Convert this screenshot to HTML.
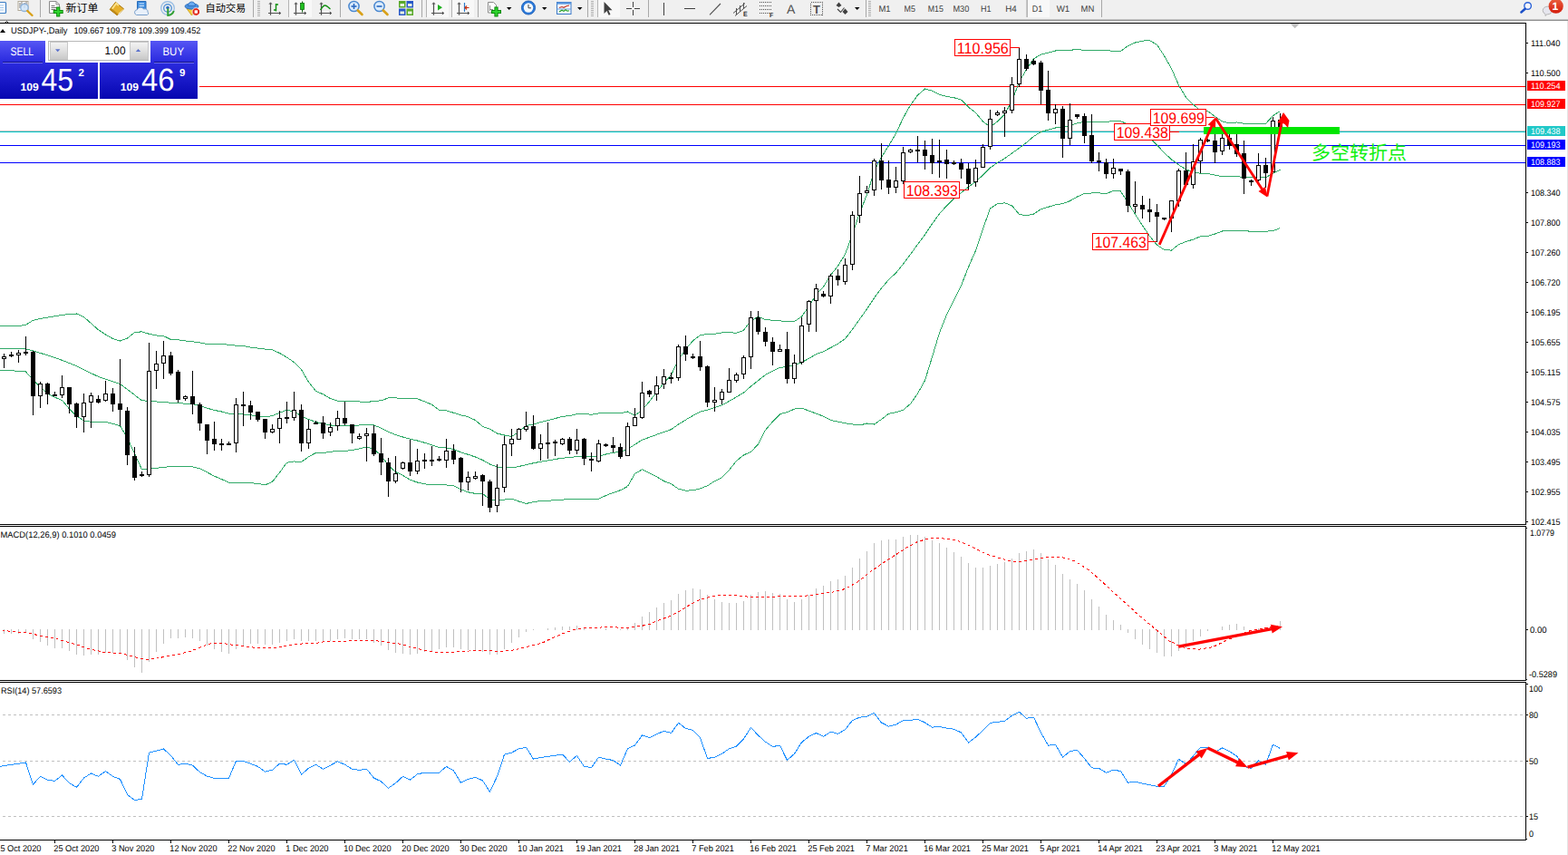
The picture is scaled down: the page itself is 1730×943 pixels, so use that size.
<!DOCTYPE html>
<html><head><meta charset="utf-8"><title>USDJPY-,Daily</title>
<style>html,body{margin:0;padding:0;background:#fff;overflow:hidden}svg{display:block}text{font-family:"Liberation Sans",sans-serif;text-rendering:geometricPrecision}</style>
</head><body>
<svg width="1730" height="943" viewBox="0 0 1730 943">
<rect x="0" y="0" width="1730" height="943" fill="#fff"/>
<rect x="0" y="0" width="1730" height="21" fill="#f0f0f0"/>
<g shape-rendering="crispEdges"><rect x="0" y="21" width="1730" height="1" fill="#c6c6c6"/><rect x="0" y="22" width="1730" height="1" fill="#8e8e8e"/><rect x="0" y="23" width="1730" height="2" fill="#fff"/></g>
<rect x="-3" y="2.5" width="9.5" height="12" rx="1" fill="#fff" stroke="#3a7cc4" stroke-width="1.2"/><path d="M-1,6H4M-1,8.5H4M-1,11H4" stroke="#9ec4ea" stroke-width="1"/>
<rect x="20" y="1.5" width="11" height="10" fill="#fcfcfc" stroke="#b0a898" stroke-width="1"/><path d="M22,3v6M24,2v5M27,3v6M29,2v4" stroke="#7a7a7a" stroke-width="1"/><circle cx="27" cy="8.5" r="4.2" fill="#cfe4f8" fill-opacity="0.85" stroke="#8fb4dc" stroke-width="1.3"/><path d="M30.2,12L35.5,17" stroke="#d8a018" stroke-width="2.4" stroke-linecap="round"/>
<rect x="44" y="0" width="1" height="19" fill="#a8a8a8" shape-rendering="crispEdges"/>
<path d="M54.5,1.5h7.5l3.500,3.500v9.500h-11z" fill="#fff" stroke="#8a8a8a" stroke-width="1"/><path d="M62,1.500v3.500h3.500" fill="none" stroke="#8a8a8a"/><path d="M56.5,6.5h4M56.5,8.5h6M56.5,10.5h5" stroke="#707070" stroke-width="1"/><path d="M64.2,7.5v11M58.7,13h11" stroke="#0c8a0c" stroke-width="4.2"/><path d="M64.2,8.5v9M59.7,13h9" stroke="#2fd42f" stroke-width="2.2"/>
<text x="72.6" y="12.5" font-size="12" fill="#000" textLength="35.8" lengthAdjust="spacingAndGlyphs" style="font-family:'Liberation Sans','Noto Sans CJK SC',sans-serif">新订单</text>
<path d="M121.200,10.500L127.500,2.400L136.800,10L129.200,16.800Z" fill="#e6b02c" stroke="#a87408" stroke-width="1"/><path d="M121.200,10.500L129.200,16.800L130.500,15.400L123,9.300Z" fill="#c08a18"/><path d="M123.800,9.600L128.300,3.800L131,6" stroke="#fbe28c" stroke-width="1.800" fill="none"/><path d="M130.500,15.400L136.800,10" stroke="#fff0c0" stroke-width="1"/>
<path d="M151.5,1.5h9.5v11h-9.5z" fill="#3f8ee0" stroke="#2a6cb8"/><path d="M153.5,4h5.5M153.5,6.5h5.5" stroke="#d8ecff" stroke-width="1.2"/><path d="M150.5,16.5a3,3 0 0 1 0.8,-5.8a4,4 0 0 1 7.2,-0.6a3.2,3.2 0 0 1 4.6,3.2a2,2 0 0 1 -0.6,3.2z" fill="#e8f0fa" stroke="#7aa0cc" stroke-width="1"/>
<circle cx="185" cy="9" r="7.3" fill="none" stroke="#9cc0e4" stroke-width="1.4"/><circle cx="185" cy="9" r="4.3" fill="none" stroke="#5a96d6" stroke-width="1.4"/><circle cx="185" cy="8.5" r="1.8" fill="#2a6cc0"/><path d="M185.3,9.5v7.5a7.5,7.5 0 0 0 6.5,-5" fill="none" stroke="#30a030" stroke-width="2"/>
<path d="M206,9.5l5.5,7.5l6,-7.5z" fill="#f4cc3c" stroke="#c89810" stroke-width="0.8"/><ellipse cx="211.5" cy="7" rx="7.5" ry="3.2" fill="#4a90e0" stroke="#2868b8" stroke-width="0.8"/><path d="M207.5,6.5a4,4.5 0 0 1 8,0z" fill="#6aaaf0" stroke="#2868b8" stroke-width="0.8"/><circle cx="216.3" cy="13" r="4.3" fill="#e02818" stroke="#fff" stroke-width="0.8"/><rect x="214.6" y="11.3" width="3.4" height="3.4" fill="#fff"/>
<text x="226.5" y="12.5" font-size="11.5" fill="#000" textLength="44.8" lengthAdjust="spacingAndGlyphs" style="font-family:'Liberation Sans','Noto Sans CJK SC',sans-serif">自动交易</text>
<rect x="279" y="0" width="1" height="19" fill="#a8a8a8" shape-rendering="crispEdges"/>
<g shape-rendering="crispEdges"><rect x="284" y="1" width="3" height="1" fill="#b0b0b0"/><rect x="284" y="3" width="3" height="1" fill="#b0b0b0"/><rect x="284" y="5" width="3" height="1" fill="#b0b0b0"/><rect x="284" y="7" width="3" height="1" fill="#b0b0b0"/><rect x="284" y="9" width="3" height="1" fill="#b0b0b0"/><rect x="284" y="11" width="3" height="1" fill="#b0b0b0"/><rect x="284" y="13" width="3" height="1" fill="#b0b0b0"/><rect x="284" y="15" width="3" height="1" fill="#b0b0b0"/><rect x="284" y="17" width="3" height="1" fill="#b0b0b0"/></g>
<path d="M298.5,3.2v13.5M296,14.5h13.5" stroke="#505050" stroke-width="1.2" fill="none"/><path d="M297,4.8l1.5,-2l1.5,2M307.8,13l2,1.5l-2,1.5" stroke="#505050" stroke-width="1" fill="none"/>
<path d="M304.5,4v8.5M304.5,5h2.5M302,11h2.5" stroke="#109010" stroke-width="1.4" fill="none"/>
<rect x="318" y="0" width="26" height="19" fill="#f8f8f8" shape-rendering="crispEdges"/><rect x="318" y="0" width="1" height="19" fill="#b4b4b4" shape-rendering="crispEdges"/>
<path d="M326.5,3.2v13.5M324,14.5h13.5" stroke="#505050" stroke-width="1.2" fill="none"/><path d="M325,4.8l1.5,-2l1.5,2M335.8,13l2,1.5l-2,1.5" stroke="#505050" stroke-width="1" fill="none"/>
<path d="M333.5,1.5v12" stroke="#106010" stroke-width="1"/><rect x="331.5" y="3.5" width="4" height="7" fill="#20c020" stroke="#107010" stroke-width="0.8"/>
<path d="M354.5,3.2v13.5M352,14.5h13.5" stroke="#505050" stroke-width="1.2" fill="none"/><path d="M353,4.8l1.5,-2l1.5,2M363.8,13l2,1.5l-2,1.5" stroke="#505050" stroke-width="1" fill="none"/>
<path d="M353.5,11c1.5,-2.500 3.500,-5 5.200,-5c2,0 3.500,2.500 5.800,4" stroke="#109010" stroke-width="1.300" fill="none"/>
<rect x="375" y="0" width="1" height="19" fill="#a8a8a8" shape-rendering="crispEdges"/>
<circle cx="390.5" cy="7" r="5.6" fill="#dcecfc" stroke="#4a88d0" stroke-width="1.5"/><path d="M394.8,11.5L399.5,16" stroke="#d8a018" stroke-width="2.6" stroke-linecap="round"/><path d="M387.5,7h6" stroke="#2868c0" stroke-width="1.6"/><path d="M390.5,4v6" stroke="#2868c0" stroke-width="1.6"/>
<circle cx="418.5" cy="7" r="5.6" fill="#dcecfc" stroke="#4a88d0" stroke-width="1.5"/><path d="M422.8,11.5L427.5,16" stroke="#d8a018" stroke-width="2.6" stroke-linecap="round"/><path d="M415.5,7h6" stroke="#2868c0" stroke-width="1.6"/>
<rect x="440" y="1" width="7.5" height="7.5" fill="#58a828"/><rect x="448.5" y="1" width="7.5" height="7.5" fill="#2858c8"/><rect x="440" y="9.5" width="7.5" height="7.5" fill="#2858c8"/><rect x="448.5" y="9.5" width="7.5" height="7.5" fill="#58a828"/><g fill="#e8f4e0"><rect x="441.5" y="4" width="4.5" height="3"/><rect x="450" y="4" width="4.5" height="3"/><rect x="441.5" y="12.500" width="4.5" height="3"/><rect x="450" y="12.5" width="4.5" height="3"/></g>
<rect x="465" y="0" width="1" height="19" fill="#a8a8a8" shape-rendering="crispEdges"/>
<rect x="470" y="0" width="25" height="19" fill="#f8f8f8" shape-rendering="crispEdges"/><rect x="470" y="0" width="1" height="19" fill="#b4b4b4" shape-rendering="crispEdges"/>
<path d="M478.5,3.2v13.5M476,14.5h13.5" stroke="#505050" stroke-width="1.2" fill="none"/><path d="M477,4.8l1.5,-2l1.5,2M487.8,13l2,1.5l-2,1.5" stroke="#505050" stroke-width="1" fill="none"/>
<polygon points="483,5 483,11.5 488,8.2" fill="#20b020"/>
<rect x="498" y="0" width="25" height="19" fill="#f8f8f8" shape-rendering="crispEdges"/><rect x="498" y="0" width="1" height="19" fill="#b4b4b4" shape-rendering="crispEdges"/>
<path d="M506.5,3.2v13.5M504,14.5h13.5" stroke="#505050" stroke-width="1.2" fill="none"/><path d="M505,4.8l1.5,-2l1.5,2M515.8,13l2,1.5l-2,1.5" stroke="#505050" stroke-width="1" fill="none"/>
<path d="M512.5,3v10" stroke="#2878c8" stroke-width="1.2"/><path d="M517.5,8.5h-4.5M515,6.5l-2,2l2,2" stroke="#c83010" stroke-width="1.1" fill="none"/>
<rect x="527" y="0" width="1" height="19" fill="#a8a8a8" shape-rendering="crispEdges"/>
<path d="M538.500,2.5h6l3,3v8.5h-9z" fill="#fff" stroke="#8a8a8a"/><path d="M540.5,6v6M540,10.500h4" stroke="#808080" stroke-width="0.9"/><path d="M547.5,7.500v11M542,13h11" stroke="#0c8a0c" stroke-width="4.200"/><path d="M547.5,8.500v9M543,13h9" stroke="#2fd42f" stroke-width="2.200"/>
<polygon points="559,8 564.5,8 561.75,11" fill="#000"/>
<circle cx="583" cy="8.5" r="7.6" fill="#2a78d8" stroke="#1858b0" stroke-width="0.8"/><circle cx="583" cy="8.500" r="5.2" fill="#f4f8fc"/><path d="M583,5v3.8h3" stroke="#404040" stroke-width="1" fill="none"/>
<polygon points="598,8 603.5,8 600.75,11" fill="#000"/>
<rect x="614.5" y="2.500" width="15.500" height="13" fill="#f8fafc" stroke="#3a78c8"/><rect x="614.500" y="2.500" width="15.500" height="2.200" fill="#5a98e0"/><path d="M614.500,10h15.500" stroke="#6aa0e0" stroke-width="1"/><path d="M617,8.500l3,-1l2,0.800l3,-1.600l3,-0.700" stroke="#c03020" stroke-width="1.100" fill="none"/><path d="M617,13l3,-1.800l2,1.200l2,-1.600l2,1.400l2,-0.500" stroke="#20a020" stroke-width="1.100" fill="none"/>
<polygon points="637,8 642.5,8 639.75,11" fill="#000"/>
<rect x="648" y="0" width="1" height="19" fill="#a8a8a8" shape-rendering="crispEdges"/>
<g shape-rendering="crispEdges"><rect x="652" y="1" width="3" height="1" fill="#b0b0b0"/><rect x="652" y="3" width="3" height="1" fill="#b0b0b0"/><rect x="652" y="5" width="3" height="1" fill="#b0b0b0"/><rect x="652" y="7" width="3" height="1" fill="#b0b0b0"/><rect x="652" y="9" width="3" height="1" fill="#b0b0b0"/><rect x="652" y="11" width="3" height="1" fill="#b0b0b0"/><rect x="652" y="13" width="3" height="1" fill="#b0b0b0"/><rect x="652" y="15" width="3" height="1" fill="#b0b0b0"/><rect x="652" y="17" width="3" height="1" fill="#b0b0b0"/></g>
<rect x="659" y="0" width="25" height="19" fill="#f8f8f8" shape-rendering="crispEdges"/><rect x="659" y="0" width="1" height="19" fill="#b4b4b4" shape-rendering="crispEdges"/>
<path d="M666.500,2v13l3,-3l2.200,4.800l1.800,-0.800l-2.200,-4.700h4.200z" fill="#404040"/>
<path d="M698.500,2v6M698.5,11v6M691,9.500h6M700,9.500h6" stroke="#404040" stroke-width="1" shape-rendering="crispEdges"/>
<rect x="715" y="0" width="1" height="19" fill="#a8a8a8" shape-rendering="crispEdges"/>
<path d="M732.500,3v13.500" stroke="#404040" stroke-width="1" shape-rendering="crispEdges"/><path d="M755,9.500h12" stroke="#404040" stroke-width="1" shape-rendering="crispEdges"/><path d="M783,16.300L795,4" stroke="#505050" stroke-width="1.100"/>
<path d="M809,14.500L822,3.500M811,17.500L824,6.500M812.500,9v7M816.500,6v7M820.500,3v7" stroke="#505050" stroke-width="1" fill="none"/>
<g shape-rendering="crispEdges"><path d="M838,2.5h14" stroke="#505050" stroke-width="1" stroke-dasharray="1,1"/><path d="M838,6.5h14" stroke="#505050" stroke-width="1" stroke-dasharray="1,1"/><path d="M838,10.5h14" stroke="#505050" stroke-width="1" stroke-dasharray="1,1"/><path d="M838,14.5h14" stroke="#505050" stroke-width="1" stroke-dasharray="1,1"/></g>
<text x="849" y="19" font-size="7" fill="#303030" font-weight="bold">F</text>
<text x="868" y="15" font-size="14" fill="#505050">A</text>
<rect x="894.500" y="2.500" width="13" height="14" fill="none" stroke="#505050" stroke-width="1" stroke-dasharray="1,1" shape-rendering="crispEdges"/>
<text x="897" y="15" font-size="13" fill="#505050" font-weight="bold">T</text>
<polygon points="922.500,6 925.500,2.500 928.500,6 925.500,8" fill="#404040"/><polygon points="929.500,13 932.500,9.500 935.500,13 932.500,16" fill="#404040"/><path d="M924,10l3.500,3.500l4,-5" stroke="#404040" stroke-width="1.100" fill="none"/>
<polygon points="943,8 948.5,8 945.75,11" fill="#000"/>
<rect x="955" y="0" width="1" height="19" fill="#a8a8a8" shape-rendering="crispEdges"/>
<g shape-rendering="crispEdges"><rect x="958" y="1" width="3" height="1" fill="#b0b0b0"/><rect x="958" y="3" width="3" height="1" fill="#b0b0b0"/><rect x="958" y="5" width="3" height="1" fill="#b0b0b0"/><rect x="958" y="7" width="3" height="1" fill="#b0b0b0"/><rect x="958" y="9" width="3" height="1" fill="#b0b0b0"/><rect x="958" y="11" width="3" height="1" fill="#b0b0b0"/><rect x="958" y="13" width="3" height="1" fill="#b0b0b0"/><rect x="958" y="15" width="3" height="1" fill="#b0b0b0"/><rect x="958" y="17" width="3" height="1" fill="#b0b0b0"/></g>
<rect x="1133" y="0" width="25" height="19" fill="#f8f8f8" shape-rendering="crispEdges"/><rect x="1133" y="0" width="1" height="19" fill="#b4b4b4" shape-rendering="crispEdges"/>
<rect x="1132" y="0" width="1" height="19" fill="#c8c8c8"/>
<text x="969.4" y="13.2" font-size="9.7" fill="#404040" textLength="13.2" lengthAdjust="spacingAndGlyphs">M1</text>
<text x="997.6" y="13.2" font-size="9.7" fill="#404040" textLength="12.3" lengthAdjust="spacingAndGlyphs">M5</text>
<text x="1023.8" y="13.2" font-size="9.7" fill="#404040" textLength="17.1" lengthAdjust="spacingAndGlyphs">M15</text>
<text x="1051.5" y="13.2" font-size="9.7" fill="#404040" textLength="17.8" lengthAdjust="spacingAndGlyphs">M30</text>
<text x="1082" y="13.2" font-size="9.7" fill="#404040" textLength="11.6" lengthAdjust="spacingAndGlyphs">H1</text>
<text x="1109.3" y="13.2" font-size="9.7" fill="#404040" textLength="12.5" lengthAdjust="spacingAndGlyphs">H4</text>
<text x="1138.7" y="13.2" font-size="9.7" fill="#404040" textLength="11.5" lengthAdjust="spacingAndGlyphs">D1</text>
<text x="1165.7" y="13.2" font-size="9.7" fill="#404040" textLength="14.6" lengthAdjust="spacingAndGlyphs">W1</text>
<text x="1192.5" y="13.2" font-size="9.7" fill="#404040" textLength="14.8" lengthAdjust="spacingAndGlyphs">MN</text>
<rect x="1215" y="0" width="1" height="19" fill="#a8a8a8" shape-rendering="crispEdges"/>
<circle cx="1685.600" cy="6.500" r="3.800" fill="#f4f4fa" stroke="#2a62d8" stroke-width="1.400"/><path d="M1682.700,9.700L1678.400,13.500" stroke="#1c50c8" stroke-width="2.500" stroke-linecap="round"/>
<defs><linearGradient id="gr" x1="0" y1="0" x2="0" y2="1"><stop offset="0" stop-color="#ea6040"/><stop offset="1" stop-color="#d41c0c"/></linearGradient></defs><path d="M1702.200,11.500a5.200,4.300 0 0 1 10.400,0a5.200,4.300 0 0 1 -5.200,4.300h-1l-1.200,1.800l-0.300,-2.200a5.200,4.300 0 0 1 -2.700,-3.900z" fill="#e6e6ee" stroke="#b4b4b4" stroke-width="1"/><circle cx="1716.700" cy="6.700" r="8.100" fill="url(#gr)"/>
<text x="1715.800" y="10.900" font-size="12" fill="#fff" text-anchor="middle" font-weight="bold">1</text><rect x="1713.200" y="9.700" width="5.200" height="1.200" fill="#fff"/>
<rect x="1729" y="23" width="1" height="920" fill="#e4e4e4"/>
<g shape-rendering="crispEdges">
<rect x="0" y="25" width="1684" height="1" fill="#000"/>
<rect x="1683" y="25" width="1" height="902" fill="#000"/>
<rect x="0" y="578" width="1684" height="1" fill="#000"/>
<rect x="0" y="580" width="1684" height="1" fill="#000"/>
<rect x="0" y="750" width="1684" height="1" fill="#000"/>
<rect x="0" y="752" width="1684" height="1" fill="#000"/>
<rect x="0" y="926" width="1684" height="1" fill="#000"/>
</g>
<g shape-rendering="crispEdges">
<rect x="0" y="95" width="1683" height="1" fill="#ff0000"/>
<rect x="0" y="115" width="1683" height="1" fill="#ff0000"/>
<rect x="0" y="144" width="1683" height="1" fill="#c8c0c0"/>
<rect x="0" y="145" width="1683" height="1" fill="#00c8c8"/>
<rect x="0" y="160" width="1683" height="1" fill="#0000ff"/>
<rect x="0" y="179" width="1683" height="1" fill="#0000ff"/>
</g>
<polyline points="-3.5,359.1 4.5,359.2 12.5,359.4 20.5,359.7 28.5,358.3 36.5,353.3 44.5,351.5 52.5,350.1 60.5,348.7 68.5,347.5 76.5,346.4 84.5,346.0 92.5,349.5 100.5,356.7 108.5,363.7 116.5,369.0 124.5,373.6 132.5,376.0 140.5,373.0 148.5,366.6 156.5,365.8 164.5,368.3 172.5,370.0 180.5,370.6 188.5,374.5 196.5,374.8 204.5,376.0 212.5,376.8 220.5,377.9 228.5,379.5 236.5,379.7 244.5,379.5 252.5,380.3 260.5,381.2 268.5,381.4 276.5,383.1 284.5,384.1 292.5,385.1 300.5,385.8 308.5,389.5 316.5,394.1 324.5,399.6 332.5,407.7 340.5,421.3 348.5,431.4 356.5,434.9 364.5,439.6 372.5,442.1 380.5,442.1 388.5,442.4 396.5,443.0 404.5,443.8 412.5,442.2 420.5,441.9 428.5,438.9 436.5,438.8 444.5,439.8 452.5,439.1 460.5,439.9 468.5,442.8 476.5,446.3 484.5,452.3 492.5,452.8 500.5,455.3 508.5,457.8 516.5,459.7 524.5,463.5 532.5,470.3 540.5,473.3 548.5,478.0 556.5,480.0 564.5,481.5 572.5,476.1 580.5,469.6 588.5,467.9 596.5,465.7 604.5,463.7 612.5,461.6 620.5,459.3 628.5,458.6 636.5,456.7 644.5,456.6 652.5,457.2 660.5,455.9 668.5,455.5 676.5,455.3 684.5,455.8 692.5,454.0 700.5,458.4 708.5,452.3 716.5,442.8 724.5,432.6 732.5,422.2 740.5,413.6 748.5,397.0 756.5,385.2 764.5,375.9 772.5,369.6 780.5,368.6 788.5,368.2 796.5,367.0 804.5,366.7 812.5,367.3 820.5,364.3 828.5,353.7 836.5,349.5 844.5,352.4 852.5,353.3 860.5,353.9 868.5,354.5 876.5,354.6 884.5,349.1 892.5,337.8 900.5,324.9 908.5,316.4 916.5,303.5 924.5,293.2 932.5,280.5 940.5,258.7 948.5,234.9 956.5,214.6 964.5,189.4 972.5,173.4 980.5,160.7 988.5,147.3 996.5,130.1 1004.5,115.8 1012.5,105.0 1020.5,98.0 1028.5,100.1 1036.5,104.4 1044.5,106.5 1052.5,107.7 1060.5,110.1 1068.5,118.1 1076.5,124.3 1084.5,134.0 1092.5,140.1 1100.5,134.0 1108.5,125.9 1116.5,111.2 1124.5,90.4 1132.5,76.7 1140.5,64.8 1148.5,60.1 1156.5,58.1 1164.5,56.0 1172.5,55.9 1180.5,55.2 1188.5,54.7 1196.5,55.3 1204.5,55.5 1212.5,55.6 1220.5,55.1 1228.5,56.8 1236.5,56.6 1244.5,50.5 1252.5,47.0 1260.5,45.1 1268.5,44.6 1276.5,49.3 1284.5,61.6 1292.5,75.6 1300.5,94.0 1308.5,107.4 1316.5,115.3 1324.5,122.0 1332.5,122.5 1340.5,128.5 1348.5,133.9 1356.5,135.9 1364.5,134.9 1372.5,136.2 1380.5,136.7 1388.5,136.4 1396.5,136.5 1404.5,127.6 1412.5,122.5" fill="none" stroke="#30aa68" stroke-width="1" shape-rendering="crispEdges"/>
<polyline points="-3.5,384.3 4.5,384.3 12.5,384.3 20.5,384.3 28.5,384.9 36.5,387.0 44.5,389.4 52.5,391.9 60.5,394.4 68.5,397.4 76.5,400.5 84.5,403.6 92.5,407.6 100.5,411.6 108.5,415.4 116.5,418.1 124.5,420.7 132.5,423.4 140.5,429.4 148.5,435.6 156.5,441.7 164.5,442.5 172.5,443.0 180.5,443.2 188.5,444.3 196.5,444.5 204.5,445.2 212.5,445.8 220.5,447.3 228.5,450.2 236.5,452.4 244.5,454.0 252.5,456.2 260.5,456.7 268.5,456.9 276.5,457.9 284.5,458.7 292.5,460.0 300.5,458.6 308.5,455.3 316.5,452.2 324.5,454.3 332.5,458.6 340.5,462.6 348.5,465.4 356.5,467.3 364.5,468.9 372.5,469.8 380.5,469.7 388.5,469.4 396.5,469.0 404.5,468.4 412.5,468.9 420.5,472.1 428.5,476.2 436.5,479.6 444.5,482.0 452.5,484.2 460.5,486.0 468.5,488.3 476.5,490.7 484.5,493.4 492.5,493.9 500.5,495.6 508.5,498.8 516.5,501.3 524.5,504.0 532.5,507.4 540.5,512.0 548.5,515.1 556.5,515.6 564.5,515.9 572.5,514.5 580.5,512.6 588.5,510.8 596.5,509.2 604.5,508.0 612.5,506.5 620.5,505.2 628.5,504.6 636.5,503.5 644.5,503.4 652.5,503.9 660.5,503.1 668.5,501.0 676.5,499.3 684.5,498.2 692.5,495.2 700.5,490.3 708.5,485.1 716.5,482.3 724.5,479.3 732.5,476.4 740.5,473.7 748.5,468.1 756.5,463.1 764.5,458.4 772.5,454.2 780.5,452.2 788.5,449.4 796.5,446.8 804.5,442.5 812.5,437.8 820.5,433.1 828.5,426.1 836.5,419.7 844.5,413.4 852.5,409.2 860.5,405.4 868.5,404.5 876.5,402.9 884.5,399.6 892.5,395.4 900.5,390.5 908.5,387.7 916.5,383.5 924.5,379.2 932.5,373.6 940.5,363.3 948.5,352.0 956.5,340.8 964.5,328.7 972.5,317.9 980.5,308.5 988.5,301.0 996.5,291.2 1004.5,280.6 1012.5,269.5 1020.5,258.8 1028.5,246.9 1036.5,235.8 1044.5,226.8 1052.5,219.2 1060.5,212.5 1068.5,206.3 1076.5,200.4 1084.5,193.1 1092.5,185.1 1100.5,179.4 1108.5,174.8 1116.5,169.0 1124.5,163.4 1132.5,157.2 1140.5,150.4 1148.5,145.4 1156.5,143.2 1164.5,141.0 1172.5,140.3 1180.5,138.4 1188.5,135.9 1196.5,134.4 1204.5,134.2 1212.5,134.2 1220.5,134.4 1228.5,133.6 1236.5,133.8 1244.5,137.0 1252.5,141.6 1260.5,146.9 1268.5,152.5 1276.5,159.8 1284.5,168.5 1292.5,175.9 1300.5,181.8 1308.5,187.0 1316.5,189.7 1324.5,191.4 1332.5,191.5 1340.5,193.2 1348.5,194.5 1356.5,195.0 1364.5,194.6 1372.5,195.5 1380.5,195.9 1388.5,195.7 1396.5,195.8 1404.5,191.1 1412.5,187.1" fill="none" stroke="#30aa68" stroke-width="1" shape-rendering="crispEdges"/>
<polyline points="-3.5,408.4 4.5,408.6 12.5,408.8 20.5,409.3 28.5,410.0 36.5,419.0 44.5,426.8 52.5,434.1 60.5,438.2 68.5,441.5 76.5,450.9 84.5,459.0 92.5,463.9 100.5,465.2 108.5,465.4 116.5,465.4 124.5,467.4 132.5,469.7 140.5,483.2 148.5,500.4 156.5,517.7 164.5,516.8 172.5,516.1 180.5,515.8 188.5,514.1 196.5,514.3 204.5,514.4 212.5,514.8 220.5,516.8 228.5,520.9 236.5,525.2 244.5,528.5 252.5,532.2 260.5,532.3 268.5,532.4 276.5,532.7 284.5,533.4 292.5,534.9 300.5,531.3 308.5,521.1 316.5,510.2 324.5,509.0 332.5,509.5 340.5,503.9 348.5,499.4 356.5,499.6 364.5,498.3 372.5,497.4 380.5,497.4 388.5,496.4 396.5,494.9 404.5,493.0 412.5,495.6 420.5,502.3 428.5,513.5 436.5,520.5 444.5,524.3 452.5,529.3 460.5,532.0 468.5,533.8 476.5,535.0 484.5,534.6 492.5,535.0 500.5,535.9 508.5,539.8 516.5,542.8 524.5,544.4 532.5,544.5 540.5,550.8 548.5,552.2 556.5,551.1 564.5,550.2 572.5,553.0 580.5,555.5 588.5,553.6 596.5,552.6 604.5,552.4 612.5,551.4 620.5,551.1 628.5,550.7 636.5,550.3 644.5,550.2 652.5,550.7 660.5,550.2 668.5,546.5 676.5,543.4 684.5,540.7 692.5,536.5 700.5,522.3 708.5,517.9 716.5,521.7 724.5,525.9 732.5,530.6 740.5,533.7 748.5,539.2 756.5,541.1 764.5,540.9 772.5,538.8 780.5,535.8 788.5,530.6 796.5,526.6 804.5,518.4 812.5,508.4 820.5,501.9 828.5,498.5 836.5,489.9 844.5,474.4 852.5,465.1 860.5,456.8 868.5,454.6 876.5,451.1 884.5,450.1 892.5,453.1 900.5,456.1 908.5,459.1 916.5,463.4 924.5,465.2 932.5,466.7 940.5,468.0 948.5,469.0 956.5,467.0 964.5,468.0 972.5,462.5 980.5,456.3 988.5,454.7 996.5,452.2 1004.5,445.4 1012.5,434.0 1020.5,419.6 1028.5,393.7 1036.5,367.2 1044.5,347.2 1052.5,330.7 1060.5,315.0 1068.5,294.6 1076.5,276.4 1084.5,252.2 1092.5,230.0 1100.5,224.8 1108.5,223.8 1116.5,226.8 1124.5,236.4 1132.5,237.8 1140.5,236.1 1148.5,230.7 1156.5,228.3 1164.5,225.9 1172.5,224.7 1180.5,221.6 1188.5,217.0 1196.5,213.5 1204.5,213.0 1212.5,212.8 1220.5,213.7 1228.5,210.4 1236.5,211.0 1244.5,223.5 1252.5,236.3 1260.5,248.8 1268.5,260.4 1276.5,270.2 1284.5,275.5 1292.5,276.1 1300.5,269.6 1308.5,266.5 1316.5,264.1 1324.5,260.8 1332.5,260.6 1340.5,258.0 1348.5,255.0 1356.5,254.1 1364.5,254.3 1372.5,254.7 1380.5,255.2 1388.5,255.1 1396.5,255.2 1404.5,254.6 1412.5,251.6" fill="none" stroke="#30aa68" stroke-width="1" shape-rendering="crispEdges"/>
<g shape-rendering="crispEdges">
<rect x="4" y="390" width="1" height="16" fill="#000"/>
<rect x="2" y="393" width="5" height="3" fill="#000"/><rect x="3" y="394" width="3" height="1" fill="#fff"/>
<rect x="12" y="388" width="1" height="6" fill="#000"/>
<rect x="10" y="391" width="5" height="2" fill="#000"/>
<rect x="20" y="386" width="1" height="14" fill="#000"/>
<rect x="18" y="389" width="5" height="3" fill="#000"/><rect x="19" y="390" width="3" height="1" fill="#fff"/>
<rect x="28" y="371" width="1" height="21" fill="#000"/>
<rect x="26" y="388" width="5" height="2" fill="#000"/>
<rect x="36" y="387" width="1" height="71" fill="#000"/>
<rect x="34" y="388" width="5" height="49" fill="#000"/>
<rect x="44" y="421" width="1" height="29" fill="#000"/>
<rect x="42" y="423" width="5" height="14" fill="#000"/><rect x="43" y="424" width="3" height="12" fill="#fff"/>
<rect x="52" y="422" width="1" height="24" fill="#000"/>
<rect x="50" y="423" width="5" height="12" fill="#000"/>
<rect x="60" y="432" width="1" height="4" fill="#000"/>
<rect x="58" y="435" width="5" height="2" fill="#000"/>
<rect x="68" y="414" width="1" height="25" fill="#000"/>
<rect x="66" y="427" width="5" height="9" fill="#000"/><rect x="67" y="428" width="3" height="7" fill="#fff"/>
<rect x="76" y="427" width="1" height="29" fill="#000"/>
<rect x="74" y="427" width="5" height="19" fill="#000"/>
<rect x="84" y="444" width="1" height="28" fill="#000"/>
<rect x="82" y="445" width="5" height="15" fill="#000"/>
<rect x="92" y="434" width="1" height="43" fill="#000"/>
<rect x="90" y="444" width="5" height="16" fill="#000"/><rect x="91" y="445" width="3" height="14" fill="#fff"/>
<rect x="100" y="433" width="1" height="39" fill="#000"/>
<rect x="98" y="436" width="5" height="8" fill="#000"/><rect x="99" y="437" width="3" height="6" fill="#fff"/>
<rect x="108" y="436" width="1" height="9" fill="#000"/>
<rect x="106" y="440" width="5" height="4" fill="#000"/>
<rect x="116" y="420" width="1" height="23" fill="#000"/>
<rect x="114" y="434" width="5" height="8" fill="#000"/><rect x="115" y="435" width="3" height="6" fill="#fff"/>
<rect x="124" y="428" width="1" height="26" fill="#000"/>
<rect x="122" y="434" width="5" height="12" fill="#000"/>
<rect x="132" y="396" width="1" height="74" fill="#000"/>
<rect x="130" y="445" width="5" height="7" fill="#000"/>
<rect x="140" y="449" width="1" height="64" fill="#000"/>
<rect x="138" y="453" width="5" height="49" fill="#000"/>
<rect x="148" y="493" width="1" height="37" fill="#000"/>
<rect x="146" y="503" width="5" height="24" fill="#000"/>
<rect x="156" y="520" width="1" height="6" fill="#000"/>
<rect x="154" y="523" width="5" height="2" fill="#000"/>
<rect x="164" y="378" width="1" height="148" fill="#000"/>
<rect x="162" y="409" width="5" height="115" fill="#000"/><rect x="163" y="410" width="3" height="113" fill="#fff"/>
<rect x="172" y="387" width="1" height="42" fill="#000"/>
<rect x="170" y="401" width="5" height="8" fill="#000"/><rect x="171" y="402" width="3" height="6" fill="#fff"/>
<rect x="180" y="376" width="1" height="42" fill="#000"/>
<rect x="178" y="392" width="5" height="9" fill="#000"/><rect x="179" y="393" width="3" height="7" fill="#fff"/>
<rect x="188" y="388" width="1" height="26" fill="#000"/>
<rect x="186" y="392" width="5" height="20" fill="#000"/>
<rect x="196" y="408" width="1" height="36" fill="#000"/>
<rect x="194" y="410" width="5" height="31" fill="#000"/>
<rect x="204" y="436" width="1" height="6" fill="#000"/>
<rect x="202" y="437" width="5" height="3" fill="#000"/><rect x="203" y="438" width="3" height="1" fill="#fff"/>
<rect x="212" y="409" width="1" height="48" fill="#000"/>
<rect x="210" y="437" width="5" height="9" fill="#000"/>
<rect x="220" y="444" width="1" height="31" fill="#000"/>
<rect x="218" y="446" width="5" height="21" fill="#000"/>
<rect x="228" y="468" width="1" height="33" fill="#000"/>
<rect x="226" y="468" width="5" height="18" fill="#000"/>
<rect x="236" y="465" width="1" height="32" fill="#000"/>
<rect x="234" y="484" width="5" height="6" fill="#000"/>
<rect x="244" y="484" width="1" height="13" fill="#000"/>
<rect x="242" y="489" width="5" height="2" fill="#000"/>
<rect x="252" y="487" width="1" height="3" fill="#000"/>
<rect x="250" y="489" width="5" height="2" fill="#000"/>
<rect x="260" y="439" width="1" height="60" fill="#000"/>
<rect x="258" y="446" width="5" height="43" fill="#000"/><rect x="259" y="447" width="3" height="41" fill="#fff"/>
<rect x="268" y="432" width="1" height="38" fill="#000"/>
<rect x="266" y="446" width="5" height="2" fill="#000"/>
<rect x="276" y="442" width="1" height="21" fill="#000"/>
<rect x="274" y="447" width="5" height="8" fill="#000"/>
<rect x="284" y="454" width="1" height="11" fill="#000"/>
<rect x="282" y="454" width="5" height="9" fill="#000"/>
<rect x="292" y="462" width="1" height="22" fill="#000"/>
<rect x="290" y="462" width="5" height="15" fill="#000"/>
<rect x="300" y="468" width="1" height="10" fill="#000"/>
<rect x="298" y="473" width="5" height="4" fill="#000"/><rect x="299" y="474" width="3" height="2" fill="#fff"/>
<rect x="308" y="453" width="1" height="36" fill="#000"/>
<rect x="306" y="461" width="5" height="12" fill="#000"/><rect x="307" y="462" width="3" height="10" fill="#fff"/>
<rect x="316" y="443" width="1" height="24" fill="#000"/>
<rect x="314" y="460" width="5" height="2" fill="#000"/>
<rect x="324" y="432" width="1" height="32" fill="#000"/>
<rect x="322" y="452" width="5" height="9" fill="#000"/><rect x="323" y="453" width="3" height="7" fill="#fff"/>
<rect x="332" y="446" width="1" height="52" fill="#000"/>
<rect x="330" y="452" width="5" height="37" fill="#000"/>
<rect x="340" y="463" width="1" height="32" fill="#000"/>
<rect x="338" y="473" width="5" height="16" fill="#000"/><rect x="339" y="474" width="3" height="14" fill="#fff"/>
<rect x="348" y="464" width="1" height="4" fill="#000"/>
<rect x="346" y="466" width="5" height="2" fill="#000"/>
<rect x="356" y="459" width="1" height="25" fill="#000"/>
<rect x="354" y="466" width="5" height="12" fill="#000"/>
<rect x="364" y="466" width="1" height="15" fill="#000"/>
<rect x="362" y="471" width="5" height="6" fill="#000"/><rect x="363" y="472" width="3" height="4" fill="#fff"/>
<rect x="372" y="453" width="1" height="22" fill="#000"/>
<rect x="370" y="461" width="5" height="9" fill="#000"/><rect x="371" y="462" width="3" height="7" fill="#fff"/>
<rect x="380" y="443" width="1" height="26" fill="#000"/>
<rect x="378" y="461" width="5" height="6" fill="#000"/>
<rect x="388" y="468" width="1" height="21" fill="#000"/>
<rect x="386" y="468" width="5" height="10" fill="#000"/>
<rect x="396" y="478" width="1" height="7" fill="#000"/>
<rect x="394" y="481" width="5" height="3" fill="#000"/><rect x="395" y="482" width="3" height="1" fill="#fff"/>
<rect x="404" y="472" width="1" height="37" fill="#000"/>
<rect x="402" y="478" width="5" height="3" fill="#000"/><rect x="403" y="479" width="3" height="1" fill="#fff"/>
<rect x="412" y="469" width="1" height="34" fill="#000"/>
<rect x="410" y="478" width="5" height="23" fill="#000"/>
<rect x="420" y="483" width="1" height="41" fill="#000"/>
<rect x="418" y="500" width="5" height="10" fill="#000"/>
<rect x="428" y="505" width="1" height="43" fill="#000"/>
<rect x="426" y="510" width="5" height="21" fill="#000"/>
<rect x="436" y="503" width="1" height="30" fill="#000"/>
<rect x="434" y="522" width="5" height="9" fill="#000"/><rect x="435" y="523" width="3" height="7" fill="#fff"/>
<rect x="444" y="509" width="1" height="9" fill="#000"/>
<rect x="442" y="510" width="5" height="7" fill="#000"/><rect x="443" y="511" width="3" height="5" fill="#fff"/>
<rect x="452" y="485" width="1" height="40" fill="#000"/>
<rect x="450" y="510" width="5" height="10" fill="#000"/>
<rect x="460" y="495" width="1" height="28" fill="#000"/>
<rect x="458" y="508" width="5" height="12" fill="#000"/><rect x="459" y="509" width="3" height="10" fill="#fff"/>
<rect x="468" y="500" width="1" height="17" fill="#000"/>
<rect x="466" y="507" width="5" height="2" fill="#000"/>
<rect x="476" y="492" width="1" height="22" fill="#000"/>
<rect x="474" y="507" width="5" height="2" fill="#000"/>
<rect x="484" y="503" width="1" height="6" fill="#000"/>
<rect x="482" y="506" width="5" height="2" fill="#000"/>
<rect x="492" y="484" width="1" height="32" fill="#000"/>
<rect x="490" y="497" width="5" height="11" fill="#000"/><rect x="491" y="498" width="3" height="9" fill="#fff"/>
<rect x="500" y="490" width="1" height="22" fill="#000"/>
<rect x="498" y="497" width="5" height="10" fill="#000"/>
<rect x="508" y="504" width="1" height="39" fill="#000"/>
<rect x="506" y="505" width="5" height="27" fill="#000"/>
<rect x="516" y="520" width="1" height="21" fill="#000"/>
<rect x="514" y="526" width="5" height="6" fill="#000"/><rect x="515" y="527" width="3" height="4" fill="#fff"/>
<rect x="524" y="520" width="1" height="9" fill="#000"/>
<rect x="522" y="525" width="5" height="3" fill="#000"/><rect x="523" y="526" width="3" height="1" fill="#fff"/>
<rect x="532" y="523" width="1" height="35" fill="#000"/>
<rect x="530" y="524" width="5" height="7" fill="#000"/>
<rect x="540" y="529" width="1" height="36" fill="#000"/>
<rect x="538" y="531" width="5" height="29" fill="#000"/>
<rect x="548" y="512" width="1" height="53" fill="#000"/>
<rect x="546" y="538" width="5" height="20" fill="#000"/><rect x="547" y="539" width="3" height="18" fill="#fff"/>
<rect x="556" y="481" width="1" height="62" fill="#000"/>
<rect x="554" y="490" width="5" height="48" fill="#000"/><rect x="555" y="491" width="3" height="46" fill="#fff"/>
<rect x="564" y="473" width="1" height="30" fill="#000"/>
<rect x="562" y="484" width="5" height="6" fill="#000"/><rect x="563" y="485" width="3" height="4" fill="#fff"/>
<rect x="572" y="472" width="1" height="13" fill="#000"/>
<rect x="570" y="473" width="5" height="12" fill="#000"/><rect x="571" y="474" width="3" height="10" fill="#fff"/>
<rect x="580" y="454" width="1" height="22" fill="#000"/>
<rect x="578" y="470" width="5" height="4" fill="#000"/><rect x="579" y="471" width="3" height="2" fill="#fff"/>
<rect x="588" y="458" width="1" height="38" fill="#000"/>
<rect x="586" y="470" width="5" height="25" fill="#000"/>
<rect x="596" y="479" width="1" height="29" fill="#000"/>
<rect x="594" y="489" width="5" height="6" fill="#000"/><rect x="595" y="490" width="3" height="4" fill="#fff"/>
<rect x="604" y="466" width="1" height="40" fill="#000"/>
<rect x="602" y="488" width="5" height="2" fill="#000"/>
<rect x="612" y="485" width="1" height="18" fill="#000"/>
<rect x="610" y="487" width="5" height="2" fill="#000"/>
<rect x="620" y="483" width="1" height="8" fill="#000"/>
<rect x="618" y="484" width="5" height="6" fill="#000"/><rect x="619" y="485" width="3" height="4" fill="#fff"/>
<rect x="628" y="482" width="1" height="19" fill="#000"/>
<rect x="626" y="484" width="5" height="13" fill="#000"/>
<rect x="636" y="473" width="1" height="28" fill="#000"/>
<rect x="634" y="485" width="5" height="12" fill="#000"/><rect x="635" y="486" width="3" height="10" fill="#fff"/>
<rect x="644" y="483" width="1" height="30" fill="#000"/>
<rect x="642" y="484" width="5" height="22" fill="#000"/>
<rect x="652" y="499" width="1" height="21" fill="#000"/>
<rect x="650" y="506" width="5" height="2" fill="#000"/>
<rect x="660" y="485" width="1" height="25" fill="#000"/>
<rect x="658" y="489" width="5" height="20" fill="#000"/><rect x="659" y="490" width="3" height="18" fill="#fff"/>
<rect x="668" y="489" width="1" height="4" fill="#000"/>
<rect x="666" y="490" width="5" height="2" fill="#000"/>
<rect x="676" y="482" width="1" height="17" fill="#000"/>
<rect x="674" y="491" width="5" height="3" fill="#000"/>
<rect x="684" y="489" width="1" height="17" fill="#000"/>
<rect x="682" y="493" width="5" height="11" fill="#000"/>
<rect x="692" y="466" width="1" height="37" fill="#000"/>
<rect x="690" y="470" width="5" height="33" fill="#000"/><rect x="691" y="471" width="3" height="31" fill="#fff"/>
<rect x="700" y="450" width="1" height="20" fill="#000"/>
<rect x="698" y="460" width="5" height="10" fill="#000"/><rect x="699" y="461" width="3" height="8" fill="#fff"/>
<rect x="708" y="421" width="1" height="41" fill="#000"/>
<rect x="706" y="433" width="5" height="28" fill="#000"/><rect x="707" y="434" width="3" height="26" fill="#fff"/>
<rect x="716" y="430" width="1" height="8" fill="#000"/>
<rect x="714" y="431" width="5" height="4" fill="#000"/>
<rect x="724" y="415" width="1" height="27" fill="#000"/>
<rect x="722" y="425" width="5" height="10" fill="#000"/><rect x="723" y="426" width="3" height="8" fill="#fff"/>
<rect x="732" y="407" width="1" height="22" fill="#000"/>
<rect x="730" y="415" width="5" height="9" fill="#000"/><rect x="731" y="416" width="3" height="7" fill="#fff"/>
<rect x="740" y="411" width="1" height="12" fill="#000"/>
<rect x="738" y="416" width="5" height="2" fill="#000"/>
<rect x="748" y="380" width="1" height="40" fill="#000"/>
<rect x="746" y="382" width="5" height="35" fill="#000"/><rect x="747" y="383" width="3" height="33" fill="#fff"/>
<rect x="756" y="370" width="1" height="28" fill="#000"/>
<rect x="754" y="382" width="5" height="9" fill="#000"/>
<rect x="764" y="390" width="1" height="6" fill="#000"/>
<rect x="762" y="393" width="5" height="2" fill="#000"/>
<rect x="772" y="376" width="1" height="33" fill="#000"/>
<rect x="770" y="393" width="5" height="12" fill="#000"/>
<rect x="780" y="403" width="1" height="46" fill="#000"/>
<rect x="778" y="404" width="5" height="40" fill="#000"/>
<rect x="788" y="427" width="1" height="27" fill="#000"/>
<rect x="786" y="441" width="5" height="3" fill="#000"/><rect x="787" y="442" width="3" height="1" fill="#fff"/>
<rect x="796" y="429" width="1" height="17" fill="#000"/>
<rect x="794" y="432" width="5" height="9" fill="#000"/><rect x="795" y="433" width="3" height="7" fill="#fff"/>
<rect x="804" y="406" width="1" height="27" fill="#000"/>
<rect x="802" y="419" width="5" height="14" fill="#000"/><rect x="803" y="420" width="3" height="12" fill="#fff"/>
<rect x="812" y="411" width="1" height="11" fill="#000"/>
<rect x="810" y="413" width="5" height="7" fill="#000"/><rect x="811" y="414" width="3" height="5" fill="#fff"/>
<rect x="820" y="392" width="1" height="26" fill="#000"/>
<rect x="818" y="394" width="5" height="19" fill="#000"/><rect x="819" y="395" width="3" height="17" fill="#fff"/>
<rect x="828" y="343" width="1" height="64" fill="#000"/>
<rect x="826" y="350" width="5" height="44" fill="#000"/><rect x="827" y="351" width="3" height="42" fill="#fff"/>
<rect x="836" y="343" width="1" height="26" fill="#000"/>
<rect x="834" y="350" width="5" height="16" fill="#000"/>
<rect x="844" y="361" width="1" height="21" fill="#000"/>
<rect x="842" y="366" width="5" height="11" fill="#000"/>
<rect x="852" y="372" width="1" height="31" fill="#000"/>
<rect x="850" y="377" width="5" height="11" fill="#000"/>
<rect x="860" y="380" width="1" height="8" fill="#000"/>
<rect x="858" y="385" width="5" height="3" fill="#000"/><rect x="859" y="386" width="3" height="1" fill="#fff"/>
<rect x="868" y="366" width="1" height="57" fill="#000"/>
<rect x="866" y="385" width="5" height="33" fill="#000"/>
<rect x="876" y="391" width="1" height="32" fill="#000"/>
<rect x="874" y="400" width="5" height="18" fill="#000"/><rect x="875" y="401" width="3" height="16" fill="#fff"/>
<rect x="884" y="350" width="1" height="52" fill="#000"/>
<rect x="882" y="359" width="5" height="41" fill="#000"/><rect x="883" y="360" width="3" height="39" fill="#fff"/>
<rect x="892" y="331" width="1" height="35" fill="#000"/>
<rect x="890" y="332" width="5" height="26" fill="#000"/><rect x="891" y="333" width="3" height="24" fill="#fff"/>
<rect x="900" y="313" width="1" height="53" fill="#000"/>
<rect x="898" y="318" width="5" height="14" fill="#000"/><rect x="899" y="319" width="3" height="12" fill="#fff"/>
<rect x="908" y="321" width="1" height="7" fill="#000"/>
<rect x="906" y="324" width="5" height="3" fill="#000"/>
<rect x="916" y="302" width="1" height="33" fill="#000"/>
<rect x="914" y="304" width="5" height="23" fill="#000"/><rect x="915" y="305" width="3" height="21" fill="#fff"/>
<rect x="924" y="297" width="1" height="18" fill="#000"/>
<rect x="922" y="304" width="5" height="5" fill="#000"/>
<rect x="932" y="285" width="1" height="29" fill="#000"/>
<rect x="930" y="292" width="5" height="19" fill="#000"/><rect x="931" y="293" width="3" height="17" fill="#fff"/>
<rect x="940" y="233" width="1" height="65" fill="#000"/>
<rect x="938" y="237" width="5" height="55" fill="#000"/><rect x="939" y="238" width="3" height="53" fill="#fff"/>
<rect x="948" y="194" width="1" height="52" fill="#000"/>
<rect x="946" y="213" width="5" height="25" fill="#000"/><rect x="947" y="214" width="3" height="23" fill="#fff"/>
<rect x="956" y="205" width="1" height="7" fill="#000"/>
<rect x="954" y="210" width="5" height="3" fill="#000"/><rect x="955" y="211" width="3" height="1" fill="#fff"/>
<rect x="964" y="175" width="1" height="41" fill="#000"/>
<rect x="962" y="177" width="5" height="33" fill="#000"/><rect x="963" y="178" width="3" height="31" fill="#fff"/>
<rect x="972" y="158" width="1" height="51" fill="#000"/>
<rect x="970" y="177" width="5" height="22" fill="#000"/>
<rect x="980" y="177" width="1" height="37" fill="#000"/>
<rect x="978" y="198" width="5" height="9" fill="#000"/>
<rect x="988" y="184" width="1" height="29" fill="#000"/>
<rect x="986" y="199" width="5" height="8" fill="#000"/><rect x="987" y="200" width="3" height="6" fill="#fff"/>
<rect x="996" y="162" width="1" height="41" fill="#000"/>
<rect x="994" y="168" width="5" height="32" fill="#000"/><rect x="995" y="169" width="3" height="30" fill="#fff"/>
<rect x="1004" y="164" width="1" height="5" fill="#000"/>
<rect x="1002" y="165" width="5" height="3" fill="#000"/><rect x="1003" y="166" width="3" height="1" fill="#fff"/>
<rect x="1012" y="150" width="1" height="29" fill="#000"/>
<rect x="1010" y="165" width="5" height="2" fill="#000"/>
<rect x="1020" y="155" width="1" height="32" fill="#000"/>
<rect x="1018" y="165" width="5" height="7" fill="#000"/>
<rect x="1028" y="153" width="1" height="39" fill="#000"/>
<rect x="1026" y="171" width="5" height="9" fill="#000"/>
<rect x="1036" y="154" width="1" height="42" fill="#000"/>
<rect x="1034" y="177" width="5" height="2" fill="#000"/>
<rect x="1044" y="165" width="1" height="32" fill="#000"/>
<rect x="1042" y="176" width="5" height="5" fill="#000"/>
<rect x="1052" y="177" width="1" height="5" fill="#000"/>
<rect x="1050" y="179" width="5" height="2" fill="#000"/>
<rect x="1060" y="175" width="1" height="22" fill="#000"/>
<rect x="1058" y="180" width="5" height="7" fill="#000"/>
<rect x="1068" y="180" width="1" height="30" fill="#000"/>
<rect x="1066" y="186" width="5" height="17" fill="#000"/>
<rect x="1076" y="176" width="1" height="30" fill="#000"/>
<rect x="1074" y="185" width="5" height="16" fill="#000"/><rect x="1075" y="186" width="3" height="14" fill="#fff"/>
<rect x="1084" y="159" width="1" height="26" fill="#000"/>
<rect x="1082" y="162" width="5" height="23" fill="#000"/><rect x="1083" y="163" width="3" height="21" fill="#fff"/>
<rect x="1092" y="121" width="1" height="44" fill="#000"/>
<rect x="1090" y="131" width="5" height="31" fill="#000"/><rect x="1091" y="132" width="3" height="29" fill="#fff"/>
<rect x="1100" y="122" width="1" height="6" fill="#000"/>
<rect x="1098" y="124" width="5" height="3" fill="#000"/><rect x="1099" y="125" width="3" height="1" fill="#fff"/>
<rect x="1108" y="118" width="1" height="33" fill="#000"/>
<rect x="1106" y="122" width="5" height="3" fill="#000"/><rect x="1107" y="123" width="3" height="1" fill="#fff"/>
<rect x="1116" y="85" width="1" height="40" fill="#000"/>
<rect x="1114" y="93" width="5" height="29" fill="#000"/><rect x="1115" y="94" width="3" height="27" fill="#fff"/>
<rect x="1124" y="52" width="1" height="44" fill="#000"/>
<rect x="1122" y="65" width="5" height="28" fill="#000"/><rect x="1123" y="66" width="3" height="26" fill="#fff"/>
<rect x="1132" y="60" width="1" height="18" fill="#000"/>
<rect x="1130" y="65" width="5" height="11" fill="#000"/>
<rect x="1140" y="65" width="1" height="7" fill="#000"/>
<rect x="1138" y="67" width="5" height="4" fill="#000"/>
<rect x="1148" y="67" width="1" height="48" fill="#000"/>
<rect x="1146" y="69" width="5" height="31" fill="#000"/>
<rect x="1156" y="78" width="1" height="55" fill="#000"/>
<rect x="1154" y="99" width="5" height="26" fill="#000"/>
<rect x="1164" y="115" width="1" height="22" fill="#000"/>
<rect x="1162" y="120" width="5" height="5" fill="#000"/><rect x="1163" y="121" width="3" height="3" fill="#fff"/>
<rect x="1172" y="117" width="1" height="57" fill="#000"/>
<rect x="1170" y="120" width="5" height="33" fill="#000"/>
<rect x="1180" y="114" width="1" height="46" fill="#000"/>
<rect x="1178" y="132" width="5" height="21" fill="#000"/><rect x="1179" y="133" width="3" height="19" fill="#fff"/>
<rect x="1188" y="126" width="1" height="5" fill="#000"/>
<rect x="1186" y="126" width="5" height="3" fill="#000"/>
<rect x="1196" y="125" width="1" height="33" fill="#000"/>
<rect x="1194" y="128" width="5" height="22" fill="#000"/>
<rect x="1204" y="126" width="1" height="54" fill="#000"/>
<rect x="1202" y="149" width="5" height="29" fill="#000"/>
<rect x="1212" y="168" width="1" height="21" fill="#000"/>
<rect x="1210" y="177" width="5" height="2" fill="#000"/>
<rect x="1220" y="175" width="1" height="22" fill="#000"/>
<rect x="1218" y="179" width="5" height="13" fill="#000"/>
<rect x="1228" y="175" width="1" height="22" fill="#000"/>
<rect x="1226" y="185" width="5" height="7" fill="#000"/><rect x="1227" y="186" width="3" height="5" fill="#fff"/>
<rect x="1236" y="186" width="1" height="7" fill="#000"/>
<rect x="1234" y="186" width="5" height="3" fill="#000"/>
<rect x="1244" y="187" width="1" height="47" fill="#000"/>
<rect x="1242" y="189" width="5" height="38" fill="#000"/>
<rect x="1252" y="200" width="1" height="35" fill="#000"/>
<rect x="1250" y="225" width="5" height="3" fill="#000"/><rect x="1251" y="226" width="3" height="1" fill="#fff"/>
<rect x="1260" y="216" width="1" height="25" fill="#000"/>
<rect x="1258" y="226" width="5" height="5" fill="#000"/>
<rect x="1268" y="219" width="1" height="26" fill="#000"/>
<rect x="1266" y="231" width="5" height="3" fill="#000"/>
<rect x="1276" y="225" width="1" height="42" fill="#000"/>
<rect x="1274" y="234" width="5" height="5" fill="#000"/>
<rect x="1284" y="240" width="1" height="3" fill="#000"/>
<rect x="1282" y="240" width="5" height="2" fill="#000"/>
<rect x="1292" y="221" width="1" height="35" fill="#000"/>
<rect x="1290" y="221" width="5" height="20" fill="#000"/><rect x="1291" y="222" width="3" height="18" fill="#fff"/>
<rect x="1300" y="186" width="1" height="42" fill="#000"/>
<rect x="1298" y="188" width="5" height="34" fill="#000"/><rect x="1299" y="189" width="3" height="32" fill="#fff"/>
<rect x="1308" y="168" width="1" height="36" fill="#000"/>
<rect x="1306" y="188" width="5" height="16" fill="#000"/>
<rect x="1316" y="159" width="1" height="49" fill="#000"/>
<rect x="1314" y="178" width="5" height="26" fill="#000"/><rect x="1315" y="179" width="3" height="24" fill="#fff"/>
<rect x="1324" y="152" width="1" height="39" fill="#000"/>
<rect x="1322" y="154" width="5" height="24" fill="#000"/><rect x="1323" y="155" width="3" height="22" fill="#fff"/>
<rect x="1332" y="153" width="1" height="4" fill="#000"/>
<rect x="1330" y="154" width="5" height="2" fill="#000"/>
<rect x="1340" y="147" width="1" height="33" fill="#000"/>
<rect x="1338" y="155" width="5" height="13" fill="#000"/>
<rect x="1348" y="148" width="1" height="23" fill="#000"/>
<rect x="1346" y="152" width="5" height="15" fill="#000"/><rect x="1347" y="153" width="3" height="13" fill="#fff"/>
<rect x="1356" y="147" width="1" height="18" fill="#000"/>
<rect x="1354" y="152" width="5" height="9" fill="#000"/>
<rect x="1364" y="148" width="1" height="25" fill="#000"/>
<rect x="1362" y="159" width="5" height="11" fill="#000"/>
<rect x="1372" y="155" width="1" height="59" fill="#000"/>
<rect x="1370" y="169" width="5" height="28" fill="#000"/>
<rect x="1380" y="198" width="1" height="7" fill="#000"/>
<rect x="1378" y="199" width="5" height="2" fill="#000"/>
<rect x="1388" y="169" width="1" height="31" fill="#000"/>
<rect x="1386" y="182" width="5" height="17" fill="#000"/><rect x="1387" y="183" width="3" height="15" fill="#fff"/>
<rect x="1396" y="174" width="1" height="33" fill="#000"/>
<rect x="1394" y="182" width="5" height="9" fill="#000"/>
<rect x="1404" y="129" width="1" height="61" fill="#000"/>
<rect x="1402" y="133" width="5" height="57" fill="#000"/><rect x="1403" y="134" width="3" height="55" fill="#fff"/>
<rect x="1412" y="125" width="1" height="23" fill="#000"/>
<rect x="1410" y="132" width="5" height="13" fill="#000"/>
</g>
<rect x="1328" y="140" width="150" height="8" fill="#00e600" shape-rendering="crispEdges"/>
<rect x="1053.5" y="43.5" width="61" height="18" fill="#fff" stroke="#ff0000" stroke-width="1" shape-rendering="crispEdges"/>
<text x="1084.3" y="59.1" font-size="17" fill="#ff0000" text-anchor="middle" textLength="57" lengthAdjust="spacingAndGlyphs">110.956</text>
<polyline points="1114,52.5 1125,52.5" fill="none" stroke="#ff0000" stroke-width="1" shape-rendering="crispEdges"/>
<rect x="997.5" y="200.5" width="61" height="18" fill="#fff" stroke="#ff0000" stroke-width="1" shape-rendering="crispEdges"/>
<text x="1028.3" y="216.1" font-size="17" fill="#ff0000" text-anchor="middle" textLength="57" lengthAdjust="spacingAndGlyphs">108.393</text>
<polyline points="1058,209.5 1068.5,209.5" fill="none" stroke="#ff0000" stroke-width="1" shape-rendering="crispEdges"/>
<rect x="1205.5" y="257.5" width="61" height="18" fill="#fff" stroke="#ff0000" stroke-width="1" shape-rendering="crispEdges"/>
<text x="1236.3" y="273.1" font-size="17" fill="#ff0000" text-anchor="middle" textLength="57" lengthAdjust="spacingAndGlyphs">107.463</text>
<polyline points="1266,266.5 1276,266.5" fill="none" stroke="#ff0000" stroke-width="1" shape-rendering="crispEdges"/>
<g shape-rendering="crispEdges">
<rect x="1291" y="145" width="10" height="1" fill="#ff0000"/>
</g>
<rect x="1229.5" y="136.5" width="61" height="18" fill="#fff" stroke="#ff0000" stroke-width="1" shape-rendering="crispEdges"/>
<text x="1260.3" y="152.1" font-size="17" fill="#ff0000" text-anchor="middle" textLength="57" lengthAdjust="spacingAndGlyphs">109.438</text>
<rect x="1269.5" y="120.5" width="61" height="18" fill="#fff" stroke="#ff0000" stroke-width="1" shape-rendering="crispEdges"/>
<text x="1300.3" y="136.1" font-size="17" fill="#ff0000" text-anchor="middle" textLength="57" lengthAdjust="spacingAndGlyphs">109.699</text>
<polyline points="1330,129.5 1340,129.5" fill="none" stroke="#ff0000" stroke-width="1" shape-rendering="crispEdges"/>
<line x1="1279.2" y1="269.9" x2="1337.7" y2="137.4" stroke="#ff0000" stroke-width="2.8" stroke-linecap="butt"/>
<polygon points="1341.3,129.2 1341.0,141.1 1332.7,137.4" fill="#ff0000"/>
<line x1="1341.3" y1="130.5" x2="1393.4" y2="210.1" stroke="#ff0000" stroke-width="2.8" stroke-linecap="butt"/>
<polygon points="1398.3,217.6 1388.5,210.9 1396.0,205.9" fill="#ff0000"/>
<line x1="1398.0" y1="216.5" x2="1414.3" y2="133.8" stroke="#ff0000" stroke-width="2.8" stroke-linecap="butt"/>
<polygon points="1416.0,125.0 1418.3,136.7 1409.5,134.9" fill="#ff0000"/>
<polygon points="1416,124 1422.5,133 1421,141 1417.5,137 1414,133 1410,136" fill="#ff0000"/>
<text x="1447" y="175.5" font-size="21" fill="#10f010" textLength="105" lengthAdjust="spacingAndGlyphs" style="font-family:'Liberation Sans','Noto Sans CJK SC',sans-serif">多空转折点</text>
<g shape-rendering="crispEdges">
<rect x="1684" y="47" width="2" height="1" fill="#000"/>
<rect x="1684" y="80" width="2" height="1" fill="#000"/>
<rect x="1684" y="212" width="2" height="1" fill="#000"/>
<rect x="1684" y="245" width="2" height="1" fill="#000"/>
<rect x="1684" y="278" width="2" height="1" fill="#000"/>
<rect x="1684" y="311" width="2" height="1" fill="#000"/>
<rect x="1684" y="344" width="2" height="1" fill="#000"/>
<rect x="1684" y="377" width="2" height="1" fill="#000"/>
<rect x="1684" y="410" width="2" height="1" fill="#000"/>
<rect x="1684" y="443" width="2" height="1" fill="#000"/>
<rect x="1684" y="476" width="2" height="1" fill="#000"/>
<rect x="1684" y="509" width="2" height="1" fill="#000"/>
<rect x="1684" y="542" width="2" height="1" fill="#000"/>
<rect x="1684" y="575" width="2" height="1" fill="#000"/>
</g>
<text x="1689" y="50.5" font-size="9.63" fill="#000" textLength="32.5" lengthAdjust="spacingAndGlyphs">111.040</text>
<text x="1689" y="83.5" font-size="9.63" fill="#000" textLength="32.5" lengthAdjust="spacingAndGlyphs">110.500</text>
<text x="1689" y="215.5" font-size="9.63" fill="#000" textLength="32.5" lengthAdjust="spacingAndGlyphs">108.340</text>
<text x="1689" y="248.5" font-size="9.63" fill="#000" textLength="32.5" lengthAdjust="spacingAndGlyphs">107.800</text>
<text x="1689" y="281.5" font-size="9.63" fill="#000" textLength="32.5" lengthAdjust="spacingAndGlyphs">107.260</text>
<text x="1689" y="314.5" font-size="9.63" fill="#000" textLength="32.5" lengthAdjust="spacingAndGlyphs">106.720</text>
<text x="1689" y="347.5" font-size="9.63" fill="#000" textLength="32.5" lengthAdjust="spacingAndGlyphs">106.195</text>
<text x="1689" y="380.5" font-size="9.63" fill="#000" textLength="32.5" lengthAdjust="spacingAndGlyphs">105.655</text>
<text x="1689" y="413.5" font-size="9.63" fill="#000" textLength="32.5" lengthAdjust="spacingAndGlyphs">105.115</text>
<text x="1689" y="446.5" font-size="9.63" fill="#000" textLength="32.5" lengthAdjust="spacingAndGlyphs">104.575</text>
<text x="1689" y="479.5" font-size="9.63" fill="#000" textLength="32.5" lengthAdjust="spacingAndGlyphs">104.035</text>
<text x="1689" y="512.5" font-size="9.63" fill="#000" textLength="32.5" lengthAdjust="spacingAndGlyphs">103.495</text>
<text x="1689" y="545.5" font-size="9.63" fill="#000" textLength="32.5" lengthAdjust="spacingAndGlyphs">102.955</text>
<text x="1689" y="578.5" font-size="9.63" fill="#000" textLength="32.5" lengthAdjust="spacingAndGlyphs">102.415</text>
<rect x="1685" y="89" width="42" height="11" fill="#ff0000" shape-rendering="crispEdges"/>
<text x="1689" y="98" font-size="9.63" fill="#fff" textLength="32.5" lengthAdjust="spacingAndGlyphs">110.254</text>
<rect x="1685" y="109" width="42" height="11" fill="#ff0000" shape-rendering="crispEdges"/>
<text x="1689" y="118" font-size="9.63" fill="#fff" textLength="32.5" lengthAdjust="spacingAndGlyphs">109.927</text>
<rect x="1685" y="139" width="42" height="11" fill="#20c8c8" shape-rendering="crispEdges"/>
<text x="1689" y="148" font-size="9.63" fill="#fff" textLength="32.5" lengthAdjust="spacingAndGlyphs">109.438</text>
<rect x="1685" y="154" width="42" height="11" fill="#0000ff" shape-rendering="crispEdges"/>
<text x="1689" y="163" font-size="9.63" fill="#fff" textLength="32.5" lengthAdjust="spacingAndGlyphs">109.193</text>
<rect x="1685" y="173" width="42" height="11" fill="#0000ff" shape-rendering="crispEdges"/>
<text x="1689" y="182" font-size="9.63" fill="#fff" textLength="32.5" lengthAdjust="spacingAndGlyphs">108.883</text>
<g shape-rendering="crispEdges">
<rect x="4" y="694" width="1" height="5" fill="#c0c0c0"/>
<rect x="12" y="694" width="1" height="5" fill="#c0c0c0"/>
<rect x="20" y="694" width="1" height="5" fill="#c0c0c0"/>
<rect x="28" y="694" width="1" height="4" fill="#c0c0c0"/>
<rect x="36" y="694" width="1" height="11" fill="#c0c0c0"/>
<rect x="44" y="694" width="1" height="14" fill="#c0c0c0"/>
<rect x="52" y="694" width="1" height="18" fill="#c0c0c0"/>
<rect x="60" y="694" width="1" height="21" fill="#c0c0c0"/>
<rect x="68" y="694" width="1" height="21" fill="#c0c0c0"/>
<rect x="76" y="694" width="1" height="24" fill="#c0c0c0"/>
<rect x="84" y="694" width="1" height="28" fill="#c0c0c0"/>
<rect x="92" y="694" width="1" height="29" fill="#c0c0c0"/>
<rect x="100" y="694" width="1" height="28" fill="#c0c0c0"/>
<rect x="108" y="694" width="1" height="28" fill="#c0c0c0"/>
<rect x="116" y="694" width="1" height="26" fill="#c0c0c0"/>
<rect x="124" y="694" width="1" height="26" fill="#c0c0c0"/>
<rect x="132" y="694" width="1" height="27" fill="#c0c0c0"/>
<rect x="140" y="694" width="1" height="34" fill="#c0c0c0"/>
<rect x="148" y="694" width="1" height="42" fill="#c0c0c0"/>
<rect x="156" y="694" width="1" height="48" fill="#c0c0c0"/>
<rect x="164" y="694" width="1" height="36" fill="#c0c0c0"/>
<rect x="172" y="694" width="1" height="25" fill="#c0c0c0"/>
<rect x="180" y="694" width="1" height="16" fill="#c0c0c0"/>
<rect x="188" y="694" width="1" height="10" fill="#c0c0c0"/>
<rect x="196" y="694" width="1" height="10" fill="#c0c0c0"/>
<rect x="204" y="694" width="1" height="9" fill="#c0c0c0"/>
<rect x="212" y="694" width="1" height="10" fill="#c0c0c0"/>
<rect x="220" y="694" width="1" height="13" fill="#c0c0c0"/>
<rect x="228" y="694" width="1" height="18" fill="#c0c0c0"/>
<rect x="236" y="694" width="1" height="22" fill="#c0c0c0"/>
<rect x="244" y="694" width="1" height="25" fill="#c0c0c0"/>
<rect x="252" y="694" width="1" height="27" fill="#c0c0c0"/>
<rect x="260" y="694" width="1" height="22" fill="#c0c0c0"/>
<rect x="268" y="694" width="1" height="18" fill="#c0c0c0"/>
<rect x="276" y="694" width="1" height="16" fill="#c0c0c0"/>
<rect x="284" y="694" width="1" height="16" fill="#c0c0c0"/>
<rect x="292" y="694" width="1" height="17" fill="#c0c0c0"/>
<rect x="300" y="694" width="1" height="17" fill="#c0c0c0"/>
<rect x="308" y="694" width="1" height="15" fill="#c0c0c0"/>
<rect x="316" y="694" width="1" height="13" fill="#c0c0c0"/>
<rect x="324" y="694" width="1" height="11" fill="#c0c0c0"/>
<rect x="332" y="694" width="1" height="13" fill="#c0c0c0"/>
<rect x="340" y="694" width="1" height="13" fill="#c0c0c0"/>
<rect x="348" y="694" width="1" height="13" fill="#c0c0c0"/>
<rect x="356" y="694" width="1" height="13" fill="#c0c0c0"/>
<rect x="364" y="694" width="1" height="13" fill="#c0c0c0"/>
<rect x="372" y="694" width="1" height="11" fill="#c0c0c0"/>
<rect x="380" y="694" width="1" height="10" fill="#c0c0c0"/>
<rect x="388" y="694" width="1" height="11" fill="#c0c0c0"/>
<rect x="396" y="694" width="1" height="11" fill="#c0c0c0"/>
<rect x="404" y="694" width="1" height="11" fill="#c0c0c0"/>
<rect x="412" y="694" width="1" height="15" fill="#c0c0c0"/>
<rect x="420" y="694" width="1" height="18" fill="#c0c0c0"/>
<rect x="428" y="694" width="1" height="23" fill="#c0c0c0"/>
<rect x="436" y="694" width="1" height="26" fill="#c0c0c0"/>
<rect x="444" y="694" width="1" height="27" fill="#c0c0c0"/>
<rect x="452" y="694" width="1" height="28" fill="#c0c0c0"/>
<rect x="460" y="694" width="1" height="27" fill="#c0c0c0"/>
<rect x="468" y="694" width="1" height="25" fill="#c0c0c0"/>
<rect x="476" y="694" width="1" height="24" fill="#c0c0c0"/>
<rect x="484" y="694" width="1" height="22" fill="#c0c0c0"/>
<rect x="492" y="694" width="1" height="20" fill="#c0c0c0"/>
<rect x="500" y="694" width="1" height="20" fill="#c0c0c0"/>
<rect x="508" y="694" width="1" height="22" fill="#c0c0c0"/>
<rect x="516" y="694" width="1" height="23" fill="#c0c0c0"/>
<rect x="524" y="694" width="1" height="23" fill="#c0c0c0"/>
<rect x="532" y="694" width="1" height="25" fill="#c0c0c0"/>
<rect x="540" y="694" width="1" height="28" fill="#c0c0c0"/>
<rect x="548" y="694" width="1" height="28" fill="#c0c0c0"/>
<rect x="556" y="694" width="1" height="22" fill="#c0c0c0"/>
<rect x="564" y="694" width="1" height="15" fill="#c0c0c0"/>
<rect x="572" y="694" width="1" height="9" fill="#c0c0c0"/>
<rect x="580" y="694" width="1" height="3" fill="#c0c0c0"/>
<rect x="588" y="694" width="1" height="1" fill="#c0c0c0"/>
<rect x="604" y="693" width="1" height="2" fill="#c0c0c0"/>
<rect x="612" y="692" width="1" height="3" fill="#c0c0c0"/>
<rect x="620" y="691" width="1" height="4" fill="#c0c0c0"/>
<rect x="628" y="691" width="1" height="4" fill="#c0c0c0"/>
<rect x="636" y="690" width="1" height="5" fill="#c0c0c0"/>
<rect x="644" y="693" width="1" height="2" fill="#c0c0c0"/>
<rect x="668" y="693" width="1" height="2" fill="#c0c0c0"/>
<rect x="684" y="694" width="1" height="1" fill="#c0c0c0"/>
<rect x="692" y="692" width="1" height="3" fill="#c0c0c0"/>
<rect x="700" y="687" width="1" height="8" fill="#c0c0c0"/>
<rect x="708" y="680" width="1" height="15" fill="#c0c0c0"/>
<rect x="716" y="675" width="1" height="20" fill="#c0c0c0"/>
<rect x="724" y="670" width="1" height="25" fill="#c0c0c0"/>
<rect x="732" y="665" width="1" height="30" fill="#c0c0c0"/>
<rect x="740" y="662" width="1" height="33" fill="#c0c0c0"/>
<rect x="748" y="655" width="1" height="40" fill="#c0c0c0"/>
<rect x="756" y="651" width="1" height="44" fill="#c0c0c0"/>
<rect x="764" y="649" width="1" height="46" fill="#c0c0c0"/>
<rect x="772" y="650" width="1" height="45" fill="#c0c0c0"/>
<rect x="780" y="656" width="1" height="39" fill="#c0c0c0"/>
<rect x="788" y="661" width="1" height="34" fill="#c0c0c0"/>
<rect x="796" y="664" width="1" height="31" fill="#c0c0c0"/>
<rect x="804" y="665" width="1" height="30" fill="#c0c0c0"/>
<rect x="812" y="665" width="1" height="30" fill="#c0c0c0"/>
<rect x="820" y="663" width="1" height="32" fill="#c0c0c0"/>
<rect x="828" y="656" width="1" height="39" fill="#c0c0c0"/>
<rect x="836" y="653" width="1" height="42" fill="#c0c0c0"/>
<rect x="844" y="652" width="1" height="43" fill="#c0c0c0"/>
<rect x="852" y="654" width="1" height="41" fill="#c0c0c0"/>
<rect x="860" y="655" width="1" height="40" fill="#c0c0c0"/>
<rect x="868" y="661" width="1" height="34" fill="#c0c0c0"/>
<rect x="876" y="664" width="1" height="31" fill="#c0c0c0"/>
<rect x="884" y="661" width="1" height="34" fill="#c0c0c0"/>
<rect x="892" y="656" width="1" height="39" fill="#c0c0c0"/>
<rect x="900" y="649" width="1" height="46" fill="#c0c0c0"/>
<rect x="908" y="646" width="1" height="49" fill="#c0c0c0"/>
<rect x="916" y="641" width="1" height="54" fill="#c0c0c0"/>
<rect x="924" y="639" width="1" height="56" fill="#c0c0c0"/>
<rect x="932" y="635" width="1" height="60" fill="#c0c0c0"/>
<rect x="940" y="626" width="1" height="69" fill="#c0c0c0"/>
<rect x="948" y="616" width="1" height="79" fill="#c0c0c0"/>
<rect x="956" y="608" width="1" height="87" fill="#c0c0c0"/>
<rect x="964" y="599" width="1" height="96" fill="#c0c0c0"/>
<rect x="972" y="596" width="1" height="99" fill="#c0c0c0"/>
<rect x="980" y="595" width="1" height="100" fill="#c0c0c0"/>
<rect x="988" y="595" width="1" height="100" fill="#c0c0c0"/>
<rect x="996" y="592" width="1" height="103" fill="#c0c0c0"/>
<rect x="1004" y="590" width="1" height="105" fill="#c0c0c0"/>
<rect x="1012" y="590" width="1" height="105" fill="#c0c0c0"/>
<rect x="1020" y="592" width="1" height="103" fill="#c0c0c0"/>
<rect x="1028" y="596" width="1" height="99" fill="#c0c0c0"/>
<rect x="1036" y="599" width="1" height="96" fill="#c0c0c0"/>
<rect x="1044" y="604" width="1" height="91" fill="#c0c0c0"/>
<rect x="1052" y="609" width="1" height="86" fill="#c0c0c0"/>
<rect x="1060" y="614" width="1" height="81" fill="#c0c0c0"/>
<rect x="1068" y="621" width="1" height="74" fill="#c0c0c0"/>
<rect x="1076" y="626" width="1" height="69" fill="#c0c0c0"/>
<rect x="1084" y="626" width="1" height="69" fill="#c0c0c0"/>
<rect x="1092" y="624" width="1" height="71" fill="#c0c0c0"/>
<rect x="1100" y="622" width="1" height="73" fill="#c0c0c0"/>
<rect x="1108" y="620" width="1" height="75" fill="#c0c0c0"/>
<rect x="1116" y="616" width="1" height="79" fill="#c0c0c0"/>
<rect x="1124" y="610" width="1" height="85" fill="#c0c0c0"/>
<rect x="1132" y="608" width="1" height="87" fill="#c0c0c0"/>
<rect x="1140" y="606" width="1" height="89" fill="#c0c0c0"/>
<rect x="1148" y="610" width="1" height="85" fill="#c0c0c0"/>
<rect x="1156" y="617" width="1" height="78" fill="#c0c0c0"/>
<rect x="1164" y="623" width="1" height="72" fill="#c0c0c0"/>
<rect x="1172" y="633" width="1" height="62" fill="#c0c0c0"/>
<rect x="1180" y="639" width="1" height="56" fill="#c0c0c0"/>
<rect x="1188" y="644" width="1" height="51" fill="#c0c0c0"/>
<rect x="1196" y="651" width="1" height="44" fill="#c0c0c0"/>
<rect x="1204" y="661" width="1" height="34" fill="#c0c0c0"/>
<rect x="1212" y="669" width="1" height="26" fill="#c0c0c0"/>
<rect x="1220" y="678" width="1" height="17" fill="#c0c0c0"/>
<rect x="1228" y="684" width="1" height="11" fill="#c0c0c0"/>
<rect x="1236" y="689" width="1" height="6" fill="#c0c0c0"/>
<rect x="1244" y="694" width="1" height="4" fill="#c0c0c0"/>
<rect x="1252" y="694" width="1" height="11" fill="#c0c0c0"/>
<rect x="1260" y="694" width="1" height="17" fill="#c0c0c0"/>
<rect x="1268" y="694" width="1" height="22" fill="#c0c0c0"/>
<rect x="1276" y="694" width="1" height="26" fill="#c0c0c0"/>
<rect x="1284" y="694" width="1" height="30" fill="#c0c0c0"/>
<rect x="1292" y="694" width="1" height="30" fill="#c0c0c0"/>
<rect x="1300" y="694" width="1" height="24" fill="#c0c0c0"/>
<rect x="1308" y="694" width="1" height="21" fill="#c0c0c0"/>
<rect x="1316" y="694" width="1" height="13" fill="#c0c0c0"/>
<rect x="1324" y="694" width="1" height="8" fill="#c0c0c0"/>
<rect x="1332" y="694" width="1" height="2" fill="#c0c0c0"/>
<rect x="1348" y="691" width="1" height="4" fill="#c0c0c0"/>
<rect x="1356" y="689" width="1" height="6" fill="#c0c0c0"/>
<rect x="1364" y="688" width="1" height="7" fill="#c0c0c0"/>
<rect x="1372" y="691" width="1" height="4" fill="#c0c0c0"/>
<rect x="1388" y="693" width="1" height="2" fill="#c0c0c0"/>
<rect x="1396" y="692" width="1" height="3" fill="#c0c0c0"/>
<rect x="1404" y="691" width="1" height="4" fill="#c0c0c0"/>
<rect x="1412" y="685" width="1" height="10" fill="#c0c0c0"/>
<rect x="1684" y="582" width="1" height="1" fill="#000"/>
<rect x="1684" y="694" width="2" height="1" fill="#000"/>
<rect x="1684" y="749" width="1" height="1" fill="#000"/>
<rect x="1683" y="579" width="1" height="1" fill="#fff"/>
<rect x="1683" y="751" width="1" height="1" fill="#fff"/>
</g>
<polyline points="2.5,695.0 12.7,696.6 28.0,697.6 35.6,698.9 44.5,701.4 59.8,703.9 68.7,706.5 76.3,708.5 86.5,711.6 99.2,716.1 108.1,717.9 115.7,719.5 132.2,720.5 141.1,722.5 152.6,725.6 164.0,727.6 178.0,725.1 195.8,722.0 211.1,717.9 225.1,712.3 235.2,709.0 244.2,709.0 251.8,710.6 267.0,712.3 279.8,714.1 302.6,714.4 317.9,711.8 328.1,710.3 351.0,709.0 356.1,708.0 381.5,707.2 394.2,706.5 414.5,706.5 422.2,707.8 432.3,708.8 437.6,709.8 442.7,710.3 452.9,713.6 463.1,716.1 480.9,719.2 501.2,719.2 519.0,717.9 541.9,717.9 554.6,718.2 567.3,716.9 582.6,713.1 597.9,709.3 608.0,704.2 620.7,698.9 630.9,695.3 643.6,692.8 658.9,692.5 669.1,691.2 679.2,691.5 684.3,692.8 699.6,691.5 714.8,689.2 725.0,684.9 737.7,680.0 750.4,673.7 763.2,665.8 773.3,661.0 786.1,657.7 796.2,656.4 811.5,656.4 826.7,658.4 849.6,658.4 859.8,657.7 860.0,657.7 885.4,657.7 900.7,655.4 918.5,653.1 932.5,649.5 946.5,641.6 961.7,629.7 974.4,620.8 987.2,612.6 999.9,604.2 1012.6,597.4 1025.3,593.8 1038.0,593.6 1055.8,595.9 1071.1,602.5 1088.9,611.4 1099.1,614.4 1114.3,618.7 1124.5,619.5 1139.8,617.0 1155.0,614.9 1172.8,614.9 1185.5,618.7 1200.8,628.4 1216.1,641.6 1228.8,653.8 1241.5,664.8 1256.7,678.8 1272.0,691.5 1284.7,702.2 1292.0,708.5 1292.3,707.5 1300.2,712.3 1310.3,715.4 1323.1,716.1 1338.3,713.6 1351.0,707.2 1366.3,700.9 1379.0,695.8 1391.7,693.3 1412.6,690.0" fill="none" stroke="#ff0000" stroke-width="1" stroke-dasharray="3,3" shape-rendering="crispEdges"/>
<text x="0.5" y="592.5" font-size="9.63" fill="#000" textLength="127.5" lengthAdjust="spacingAndGlyphs">MACD(12,26,9) 0.1010 0.0459</text>
<text x="1688" y="591" font-size="9.63" fill="#000" textLength="27" lengthAdjust="spacingAndGlyphs">1.0779</text>
<text x="1688" y="697.5" font-size="9.63" fill="#000" textLength="18.5" lengthAdjust="spacingAndGlyphs">0.00</text>
<text x="1687" y="746.8" font-size="9.63" fill="#000" textLength="31" lengthAdjust="spacingAndGlyphs">-0.5289</text>
<line x1="1300.2" y1="713.1" x2="1404.7" y2="693.3" stroke="#ff0000" stroke-width="3.4" stroke-linecap="butt"/>
<polygon points="1415.0,691.3 1403.7,698.5 1401.8,688.7" fill="#ff0000"/>
<g shape-rendering="crispEdges">
<line x1="3" y1="788.5" x2="1683" y2="788.5" stroke="#c0c0c0" stroke-width="1" stroke-dasharray="3,3"/>
<rect x="1684" y="788" width="2" height="1" fill="#000"/>
<line x1="3" y1="839.5" x2="1683" y2="839.5" stroke="#c0c0c0" stroke-width="1" stroke-dasharray="3,3"/>
<rect x="1684" y="839" width="2" height="1" fill="#000"/>
<line x1="3" y1="900.5" x2="1683" y2="900.5" stroke="#c0c0c0" stroke-width="1" stroke-dasharray="3,3"/>
<rect x="1684" y="900" width="2" height="1" fill="#000"/>
<rect x="1684" y="754" width="2" height="1" fill="#000"/>
<rect x="1684" y="925" width="1" height="1" fill="#000"/>
</g>
<polyline points="-3.5,846 4.5,844.6 12.5,843.3 20.5,842.3 28.5,841.0 36.5,865.2 44.5,856.3 52.5,860.1 60.5,861.4 68.5,855.0 76.5,863.7 84.5,868.3 92.5,858.1 100.5,853.0 108.5,856.3 116.5,850.5 124.5,856.3 132.5,859.4 140.5,876.4 148.5,882.5 156.5,881.5 164.5,830.1 172.5,828.1 180.5,826.0 188.5,833.4 196.5,843.3 204.5,842.3 212.5,844.1 220.5,851.7 228.5,856.1 236.5,858.3 244.5,858.3 252.5,858.3 260.5,839.3 268.5,839.3 276.5,842.3 284.5,845.4 292.5,851.2 300.5,849.2 308.5,842.1 316.5,843.3 324.5,838.3 332.5,854.3 340.5,847.2 348.5,843.3 356.5,848.2 364.5,844.1 372.5,839.8 380.5,843.3 388.5,848.2 396.5,849.4 404.5,848.2 412.5,858.1 420.5,861.9 428.5,869.3 436.5,863.7 444.5,856.3 452.5,860.1 460.5,853.8 468.5,852.2 476.5,852.2 484.5,852.2 492.5,845.4 500.5,849.9 508.5,863.2 516.5,859.4 524.5,857.3 532.5,860.9 540.5,873.3 548.5,856.3 556.5,832.1 564.5,830.1 572.5,825.8 580.5,824.3 588.5,837.2 596.5,835.5 604.5,834.4 612.5,833.2 620.5,832.1 628.5,840.3 636.5,833.4 644.5,845.4 652.5,846.6 660.5,835.2 668.5,837.2 676.5,838.5 684.5,844.1 692.5,825.8 700.5,822.0 708.5,811.0 716.5,813.6 724.5,809.8 732.5,806.2 740.5,808.5 748.5,797.3 756.5,803.4 764.5,805.4 772.5,813.6 780.5,836.5 788.5,835.2 796.5,831.4 804.5,825.8 812.5,823.2 820.5,814.9 828.5,802.4 836.5,811.0 844.5,818.2 852.5,823.5 860.5,822.2 868.5,838.5 876.5,831.4 884.5,818.7 892.5,812.3 900.5,808.5 908.5,812.3 916.5,807.2 924.5,809.3 932.5,804.7 940.5,794.5 948.5,791.2 956.5,790.2 964.5,786.4 972.5,797.0 980.5,801.1 988.5,799.3 996.5,794.5 1004.5,794.3 1012.5,793.2 1020.5,797.0 1028.5,802.1 1036.5,801.4 1044.5,803.2 1052.5,804.2 1060.5,808.0 1068.5,818.9 1076.5,813.1 1084.5,805.4 1092.5,797.3 1100.5,796.3 1108.5,795.3 1116.5,789.4 1124.5,785.1 1132.5,792.2 1140.5,791.2 1148.5,808.0 1156.5,822.2 1164.5,821.2 1172.5,835.2 1180.5,828.6 1188.5,827.3 1196.5,836.5 1204.5,846.9 1212.5,847.4 1220.5,852.2 1228.5,849.2 1236.5,850.5 1244.5,863.2 1252.5,862.2 1260.5,864.2 1268.5,865.7 1276.5,867.2 1284.5,867.2 1292.5,854.3 1300.5,837.2 1308.5,842.8 1316.5,833.9 1324.5,824.3 1332.5,825.0 1340.5,829.3 1348.5,825.0 1356.5,828.8 1364.5,833.9 1372.5,845.4 1380.5,847.4 1388.5,839.0 1396.5,843.3 1404.5,821.2 1412.5,825.5" fill="none" stroke="#1e90ff" stroke-width="1" shape-rendering="crispEdges"/>
<text x="1" y="765" font-size="9.63" fill="#000" textLength="67" lengthAdjust="spacingAndGlyphs">RSI(14) 57.6593</text>
<text x="1687" y="762.8" font-size="9.63" fill="#000" textLength="15.0" lengthAdjust="spacingAndGlyphs">100</text>
<text x="1687" y="792" font-size="9.63" fill="#000" textLength="10.0" lengthAdjust="spacingAndGlyphs">80</text>
<text x="1687" y="843" font-size="9.63" fill="#000" textLength="10.0" lengthAdjust="spacingAndGlyphs">50</text>
<text x="1687" y="903.8" font-size="9.63" fill="#000" textLength="10.0" lengthAdjust="spacingAndGlyphs">15</text>
<text x="1687" y="922.9" font-size="9.63" fill="#000" textLength="5.0" lengthAdjust="spacingAndGlyphs">0</text>
<line x1="1278.0" y1="867.0" x2="1324.2" y2="831.4" stroke="#ff0000" stroke-width="3.4" stroke-linecap="butt"/>
<polygon points="1332.5,825.0 1325.7,836.6 1319.5,828.7" fill="#ff0000"/>
<line x1="1332.5" y1="825.0" x2="1367.0" y2="841.6" stroke="#ff0000" stroke-width="3.4" stroke-linecap="butt"/>
<polygon points="1376.5,846.2 1363.1,845.3 1367.4,836.3" fill="#ff0000"/>
<line x1="1376.5" y1="846.2" x2="1422.4" y2="833.2" stroke="#ff0000" stroke-width="3.4" stroke-linecap="butt"/>
<polygon points="1432.5,830.3 1421.8,838.5 1419.1,828.9" fill="#ff0000"/>
<g shape-rendering="crispEdges">
<rect x="60" y="927" width="1" height="3" fill="#000"/>
<rect x="124" y="927" width="1" height="3" fill="#000"/>
<rect x="188" y="927" width="1" height="3" fill="#000"/>
<rect x="252" y="927" width="1" height="3" fill="#000"/>
<rect x="316" y="927" width="1" height="3" fill="#000"/>
<rect x="380" y="927" width="1" height="3" fill="#000"/>
<rect x="444" y="927" width="1" height="3" fill="#000"/>
<rect x="508" y="927" width="1" height="3" fill="#000"/>
<rect x="572" y="927" width="1" height="3" fill="#000"/>
<rect x="636" y="927" width="1" height="3" fill="#000"/>
<rect x="700" y="927" width="1" height="3" fill="#000"/>
<rect x="764" y="927" width="1" height="3" fill="#000"/>
<rect x="828" y="927" width="1" height="3" fill="#000"/>
<rect x="892" y="927" width="1" height="3" fill="#000"/>
<rect x="956" y="927" width="1" height="3" fill="#000"/>
<rect x="1020" y="927" width="1" height="3" fill="#000"/>
<rect x="1084" y="927" width="1" height="3" fill="#000"/>
<rect x="1148" y="927" width="1" height="3" fill="#000"/>
<rect x="1212" y="927" width="1" height="3" fill="#000"/>
<rect x="1276" y="927" width="1" height="3" fill="#000"/>
<rect x="1340" y="927" width="1" height="3" fill="#000"/>
<rect x="1404" y="927" width="1" height="3" fill="#000"/>
</g>
<text x="-4.7" y="938.8" font-size="9.84" fill="#000" textLength="50.1" lengthAdjust="spacingAndGlyphs">15 Oct 2020</text>
<text x="59.3" y="938.8" font-size="9.84" fill="#000" textLength="50.1" lengthAdjust="spacingAndGlyphs">25 Oct 2020</text>
<text x="123.3" y="938.8" font-size="9.84" fill="#000" textLength="47.1" lengthAdjust="spacingAndGlyphs">3 Nov 2020</text>
<text x="187.3" y="938.8" font-size="9.84" fill="#000" textLength="52.2" lengthAdjust="spacingAndGlyphs">12 Nov 2020</text>
<text x="251.3" y="938.8" font-size="9.84" fill="#000" textLength="52.2" lengthAdjust="spacingAndGlyphs">22 Nov 2020</text>
<text x="315.3" y="938.8" font-size="9.84" fill="#000" textLength="47.1" lengthAdjust="spacingAndGlyphs">1 Dec 2020</text>
<text x="379.3" y="938.8" font-size="9.84" fill="#000" textLength="52.2" lengthAdjust="spacingAndGlyphs">10 Dec 2020</text>
<text x="443.3" y="938.8" font-size="9.84" fill="#000" textLength="52.2" lengthAdjust="spacingAndGlyphs">20 Dec 2020</text>
<text x="507.3" y="938.8" font-size="9.84" fill="#000" textLength="52.2" lengthAdjust="spacingAndGlyphs">30 Dec 2020</text>
<text x="571.3" y="938.8" font-size="9.84" fill="#000" textLength="50.6" lengthAdjust="spacingAndGlyphs">10 Jan 2021</text>
<text x="635.3" y="938.8" font-size="9.84" fill="#000" textLength="50.6" lengthAdjust="spacingAndGlyphs">19 Jan 2021</text>
<text x="699.3" y="938.8" font-size="9.84" fill="#000" textLength="50.6" lengthAdjust="spacingAndGlyphs">28 Jan 2021</text>
<text x="763.3" y="938.8" font-size="9.84" fill="#000" textLength="46.5" lengthAdjust="spacingAndGlyphs">7 Feb 2021</text>
<text x="827.3" y="938.8" font-size="9.84" fill="#000" textLength="51.7" lengthAdjust="spacingAndGlyphs">16 Feb 2021</text>
<text x="891.3" y="938.8" font-size="9.84" fill="#000" textLength="51.7" lengthAdjust="spacingAndGlyphs">25 Feb 2021</text>
<text x="955.3" y="938.8" font-size="9.84" fill="#000" textLength="46.5" lengthAdjust="spacingAndGlyphs">7 Mar 2021</text>
<text x="1019.3" y="938.8" font-size="9.84" fill="#000" textLength="51.7" lengthAdjust="spacingAndGlyphs">16 Mar 2021</text>
<text x="1083.3" y="938.8" font-size="9.84" fill="#000" textLength="51.7" lengthAdjust="spacingAndGlyphs">25 Mar 2021</text>
<text x="1147.3" y="938.8" font-size="9.84" fill="#000" textLength="44.5" lengthAdjust="spacingAndGlyphs">5 Apr 2021</text>
<text x="1211.3" y="938.8" font-size="9.84" fill="#000" textLength="49.6" lengthAdjust="spacingAndGlyphs">14 Apr 2021</text>
<text x="1275.3" y="938.8" font-size="9.84" fill="#000" textLength="49.6" lengthAdjust="spacingAndGlyphs">23 Apr 2021</text>
<text x="1339.3" y="938.8" font-size="9.84" fill="#000" textLength="48.1" lengthAdjust="spacingAndGlyphs">3 May 2021</text>
<text x="1403.3" y="938.8" font-size="9.84" fill="#000" textLength="53.2" lengthAdjust="spacingAndGlyphs">12 May 2021</text>
<polygon points="1423.5,26 1434,26 1428.7,31.3" fill="#c0c0c0"/>
<polygon points="0,36 6,36 3,32" fill="#000"/>
<polyline points="0,25.5 5.5,25.5 7.5,23.5 9.5,25.5" fill="none" stroke="#000" stroke-width="1"/>
<text x="12" y="36.7" font-size="9.74" fill="#000" textLength="62.5" lengthAdjust="spacingAndGlyphs">USDJPY-,Daily</text>
<text x="81.4" y="36.7" font-size="9.74" fill="#000" textLength="140" lengthAdjust="spacingAndGlyphs">109.667 109.778 109.399 109.452</text>
<defs>
<linearGradient id="gb" x1="0" y1="0" x2="0" y2="1"><stop offset="0" stop-color="#5656f4"/><stop offset="0.35" stop-color="#2c2ce0"/><stop offset="1" stop-color="#0606b0"/></linearGradient>
<linearGradient id="gbtn" x1="0" y1="0" x2="0" y2="1"><stop offset="0" stop-color="#f4f4f4"/><stop offset="0.5" stop-color="#e0e0e0"/><stop offset="1" stop-color="#c8c8c8"/></linearGradient>
</defs>
<g shape-rendering="crispEdges">
<rect x="0" y="45" width="220" height="64" fill="#fff"/>
<path d="M0,45H50V69H108V109H0Z" fill="url(#gb)"/>
<path d="M166,45H218V109H110V69H166Z" fill="url(#gb)"/>
<rect x="3" y="68" width="44" height="1" fill="#14148c"/>
<rect x="3" y="69" width="44" height="1" fill="#6a6af0"/>
<rect x="170" y="68" width="44" height="1" fill="#14148c"/>
<rect x="170" y="69" width="44" height="1" fill="#6a6af0"/>
<rect x="53.5" y="45.5" width="110" height="21" fill="#fff" stroke="#b8b8b8"/>
<rect x="55" y="46.5" width="19" height="19" fill="url(#gbtn)" stroke="#c8c8c8"/>
<rect x="143" y="46.5" width="20" height="19" fill="url(#gbtn)" stroke="#c8c8c8"/>
</g>
<polygon points="61,54.2 66.400,54.2 63.700,57.3" fill="#5a70cc"/><polygon points="149.8,57 155.2,57 152.5,54" fill="#5a70cc"/>
<text x="138.5" y="60" font-size="12.5" fill="#000" text-anchor="end" textLength="23" lengthAdjust="spacingAndGlyphs">1.00</text>
<text x="11.5" y="61" font-size="12.5" fill="#fff" textLength="25.5" lengthAdjust="spacingAndGlyphs">SELL</text>
<text x="179.5" y="61" font-size="12.5" fill="#fff" textLength="23.5" lengthAdjust="spacingAndGlyphs">BUY</text>
<text x="22.6" y="99.8" font-size="12" fill="#fff" textLength="20.2" lengthAdjust="spacingAndGlyphs" font-weight="bold">109</text>
<text x="45.5" y="99.8" font-size="35" fill="#fff" textLength="35.5" lengthAdjust="spacingAndGlyphs">45</text>
<text x="86.4" y="83.6" font-size="11.5" fill="#fff" font-weight="bold">2</text>
<text x="132.7" y="99.8" font-size="12" fill="#fff" textLength="20.2" lengthAdjust="spacingAndGlyphs" font-weight="bold">109</text>
<text x="156" y="99.8" font-size="35" fill="#fff" textLength="36.5" lengthAdjust="spacingAndGlyphs">46</text>
<text x="197.9" y="83.6" font-size="11.5" fill="#fff" font-weight="bold">9</text>
<text x="820" y="18" font-size="7.49" fill="#303030" textLength="4.7" lengthAdjust="spacingAndGlyphs" font-weight="bold">E</text>
</svg>
</body></html>
